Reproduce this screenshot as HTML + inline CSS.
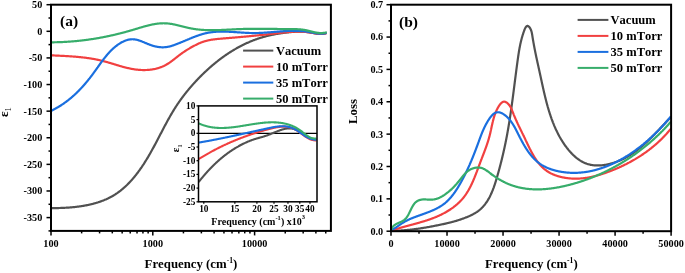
<!DOCTYPE html><html><head><meta charset="utf-8"><style>html,body{margin:0;padding:0;background:#fff;width:685px;height:273px;overflow:hidden}svg{display:block;font-family:"Liberation Serif",serif;will-change:transform;font-kerning:none;font-feature-settings:"kern" 0}</style></head><body><svg width="685" height="273" viewBox="0 0 685 273" font-family='"Liberation Serif", serif'><rect x="0" y="0" width="685" height="273" fill="#fff"/><defs><clipPath id="ca"><rect x="51.0" y="4.7" width="279.9" height="226.2"/></clipPath><clipPath id="cb"><rect x="391.0" y="4.7" width="280.1" height="226.5"/></clipPath><clipPath id="ci"><rect x="198.5" y="105.9" width="118.5" height="95.9"/></clipPath></defs><path d="M51.07,208.11 L51.60,208.11 L52.12,208.11 L52.65,208.11 L53.18,208.10 L53.71,208.10 L54.25,208.10 L54.78,208.09 L55.32,208.09 L55.85,208.08 L56.39,208.07 L56.93,208.06 L57.47,208.05 L58.01,208.04 L58.56,208.03 L59.10,208.01 L59.64,208.00 L60.19,207.98 L60.74,207.97 L61.28,207.95 L61.83,207.93 L62.38,207.90 L62.93,207.88 L63.48,207.86 L64.04,207.83 L64.59,207.80 L65.14,207.77 L65.70,207.74 L66.25,207.71 L66.80,207.68 L67.36,207.64 L67.92,207.61 L68.47,207.57 L69.03,207.53 L69.59,207.48 L70.14,207.44 L70.70,207.40 L71.26,207.35 L71.82,207.30 L72.38,207.25 L72.93,207.20 L73.49,207.14 L74.05,207.08 L74.61,207.03 L75.17,206.97 L75.73,206.90 L76.29,206.84 L76.85,206.77 L77.40,206.70 L77.96,206.63 L78.52,206.56 L79.08,206.48 L79.64,206.41 L80.19,206.33 L80.75,206.24 L81.31,206.16 L81.86,206.07 L82.42,205.99 L82.97,205.89 L83.53,205.80 L84.08,205.71 L84.64,205.61 L85.19,205.51 L85.74,205.40 L86.29,205.30 L86.85,205.19 L87.40,205.08 L87.94,204.97 L88.49,204.85 L89.04,204.73 L89.59,204.61 L90.13,204.49 L90.68,204.36 L91.22,204.23 L91.76,204.10 L92.30,203.96 L92.85,203.83 L93.38,203.68 L93.92,203.54 L94.46,203.39 L94.99,203.25 L95.53,203.09 L96.06,202.94 L96.59,202.78 L97.12,202.62 L97.65,202.45 L98.18,202.29 L98.70,202.12 L99.23,201.94 L99.75,201.77 L100.27,201.59 L100.79,201.40 L101.31,201.22 L101.82,201.03 L102.33,200.83 L102.85,200.64 L103.36,200.44 L103.86,200.23 L104.37,200.03 L104.87,199.82 L105.38,199.60 L105.88,199.39 L106.38,199.17 L106.87,198.94 L107.36,198.72 L107.86,198.49 L108.35,198.25 L108.83,198.01 L109.32,197.77 L109.80,197.53 L110.28,197.28 L110.76,197.02 L111.23,196.77 L111.71,196.51 L112.18,196.24 L112.64,195.97 L113.11,195.70 L113.57,195.43 L114.03,195.15 L114.49,194.86 L114.95,194.58 L115.40,194.28 L115.85,193.99 L116.30,193.69 L116.74,193.39 L117.19,193.09 L117.63,192.78 L118.06,192.47 L118.50,192.15 L118.93,191.83 L119.37,191.51 L119.80,191.19 L120.22,190.86 L120.65,190.53 L121.07,190.19 L121.49,189.85 L121.91,189.51 L122.32,189.17 L122.73,188.82 L123.15,188.47 L123.55,188.12 L123.96,187.76 L124.37,187.40 L124.77,187.04 L125.17,186.67 L125.57,186.31 L125.96,185.93 L126.36,185.56 L126.75,185.18 L127.14,184.81 L127.53,184.42 L127.91,184.04 L128.30,183.65 L128.68,183.26 L129.06,182.87 L129.43,182.48 L129.81,182.08 L130.18,181.68 L130.55,181.28 L130.92,180.87 L131.29,180.47 L131.66,180.06 L132.02,179.64 L132.39,179.23 L132.75,178.81 L133.10,178.40 L133.46,177.98 L133.82,177.55 L134.17,177.13 L134.52,176.70 L134.87,176.27 L135.22,175.84 L135.56,175.41 L135.91,174.98 L136.25,174.54 L136.59,174.10 L136.93,173.66 L137.27,173.22 L137.60,172.78 L137.94,172.33 L138.27,171.88 L138.60,171.44 L138.93,170.98 L139.26,170.53 L139.58,170.08 L139.91,169.62 L140.23,169.17 L140.55,168.71 L140.87,168.25 L141.19,167.79 L141.51,167.33 L141.82,166.86 L142.14,166.40 L142.45,165.93 L142.76,165.46 L143.07,165.00 L143.38,164.53 L143.69,164.06 L143.99,163.58 L144.29,163.11 L144.60,162.64 L144.90,162.16 L145.20,161.68 L145.50,161.21 L145.79,160.73 L146.09,160.25 L146.39,159.77 L146.68,159.29 L146.97,158.81 L147.26,158.33 L147.55,157.84 L147.84,157.36 L148.13,156.88 L148.41,156.39 L148.70,155.91 L148.98,155.42 L149.27,154.93 L149.55,154.45 L149.83,153.96 L150.11,153.47 L150.39,152.98 L150.66,152.50 L150.94,152.01 L151.21,151.52 L151.49,151.03 L151.76,150.54 L152.03,150.05 L152.30,149.56 L152.57,149.07 L152.84,148.58 L153.11,148.09 L153.38,147.60 L153.65,147.11 L153.91,146.62 L154.18,146.13 L154.44,145.64 L154.70,145.14 L154.97,144.65 L155.23,144.16 L155.49,143.67 L155.75,143.18 L156.01,142.69 L156.27,142.20 L156.53,141.71 L156.79,141.22 L157.05,140.73 L157.30,140.24 L157.56,139.75 L157.82,139.25 L158.07,138.76 L158.33,138.27 L158.59,137.78 L158.84,137.29 L159.10,136.80 L159.35,136.31 L159.61,135.82 L159.86,135.33 L160.12,134.84 L160.37,134.36 L160.62,133.87 L160.88,133.38 L161.13,132.89 L161.39,132.40 L161.64,131.91 L161.90,131.42 L162.15,130.94 L162.40,130.45 L162.66,129.96 L162.91,129.48 L163.17,128.99 L163.42,128.50 L163.68,128.02 L163.94,127.53 L164.19,127.05 L164.45,126.56 L164.71,126.08 L164.96,125.60 L165.22,125.11 L165.48,124.63 L165.74,124.15 L166.00,123.66 L166.25,123.18 L166.51,122.70 L166.78,122.22 L167.04,121.74 L167.30,121.26 L167.56,120.78 L167.82,120.30 L168.09,119.82 L168.35,119.35 L168.62,118.87 L168.89,118.39 L169.15,117.92 L169.42,117.44 L169.69,116.96 L169.96,116.49 L170.23,116.02 L170.50,115.54 L170.78,115.07 L171.05,114.60 L171.32,114.13 L171.60,113.66 L171.88,113.19 L172.16,112.72 L172.44,112.25 L172.72,111.78 L173.00,111.32 L173.28,110.85 L173.57,110.38 L173.85,109.92 L174.14,109.46 L174.43,108.99 L174.72,108.53 L175.01,108.07 L175.30,107.61 L175.60,107.15 L175.89,106.69 L176.19,106.23 L176.49,105.77 L176.79,105.32 L177.09,104.86 L177.39,104.41 L177.70,103.95 L178.01,103.50 L178.31,103.05 L178.62,102.60 L178.94,102.15 L179.25,101.70 L179.56,101.25 L179.88,100.80 L180.20,100.35 L180.52,99.91 L180.84,99.46 L181.16,99.02 L181.48,98.57 L181.81,98.13 L182.13,97.69 L182.46,97.25 L182.79,96.81 L183.12,96.37 L183.45,95.93 L183.78,95.50 L184.12,95.06 L184.45,94.62 L184.79,94.19 L185.13,93.76 L185.47,93.32 L185.81,92.89 L186.16,92.46 L186.50,92.03 L186.85,91.60 L187.19,91.17 L187.54,90.75 L187.89,90.32 L188.24,89.90 L188.59,89.47 L188.95,89.05 L189.30,88.63 L189.66,88.20 L190.01,87.78 L190.37,87.36 L190.73,86.95 L191.09,86.53 L191.46,86.11 L191.82,85.70 L192.18,85.28 L192.55,84.87 L192.92,84.45 L193.29,84.04 L193.66,83.63 L194.03,83.22 L194.40,82.81 L194.77,82.40 L195.15,82.00 L195.52,81.59 L195.90,81.18 L196.28,80.78 L196.66,80.38 L197.04,79.97 L197.42,79.57 L197.80,79.17 L198.18,78.77 L198.57,78.37 L198.95,77.98 L199.34,77.58 L199.73,77.18 L200.12,76.79 L200.51,76.40 L200.90,76.00 L201.29,75.61 L201.68,75.22 L202.08,74.83 L202.47,74.44 L202.87,74.06 L203.27,73.67 L203.66,73.28 L204.06,72.90 L204.46,72.52 L204.87,72.13 L205.27,71.75 L205.67,71.37 L206.08,71.00 L206.48,70.62 L206.89,70.24 L207.30,69.87 L207.71,69.49 L208.12,69.12 L208.53,68.75 L208.94,68.38 L209.35,68.01 L209.77,67.64 L210.18,67.28 L210.60,66.91 L211.02,66.55 L211.44,66.18 L211.86,65.82 L212.28,65.46 L212.70,65.11 L213.12,64.75 L213.55,64.39 L213.97,64.04 L214.40,63.68 L214.83,63.33 L215.25,62.98 L215.68,62.63 L216.11,62.29 L216.54,61.94 L216.98,61.60 L217.41,61.25 L217.84,60.91 L218.28,60.57 L218.72,60.23 L219.15,59.90 L219.59,59.56 L220.03,59.23 L220.47,58.89 L220.92,58.56 L221.36,58.23 L221.80,57.91 L222.25,57.58 L222.69,57.25 L223.14,56.93 L223.59,56.61 L224.04,56.29 L224.49,55.97 L224.94,55.66 L225.39,55.34 L225.85,55.03 L226.30,54.72 L226.76,54.41 L227.21,54.10 L227.67,53.79 L228.13,53.49 L228.59,53.19 L229.05,52.88 L229.51,52.59 L229.98,52.29 L230.44,51.99 L230.90,51.70 L231.37,51.41 L231.84,51.12 L232.31,50.83 L232.77,50.54 L233.25,50.26 L233.72,49.97 L234.19,49.69 L234.66,49.41 L235.14,49.14 L235.61,48.86 L236.09,48.59 L236.57,48.32 L237.04,48.05 L237.52,47.78 L238.00,47.52 L238.49,47.25 L238.97,46.99 L239.45,46.73 L239.94,46.47 L240.42,46.22 L240.91,45.97 L241.40,45.71 L241.89,45.47 L242.38,45.22 L242.87,44.97 L243.36,44.73 L243.85,44.49 L244.35,44.25 L244.84,44.02 L245.34,43.78 L245.84,43.55 L246.33,43.32 L246.83,43.09 L247.33,42.87 L247.84,42.64 L248.34,42.42 L248.84,42.20 L249.35,41.99 L249.85,41.77 L250.36,41.56 L250.87,41.35 L251.37,41.14 L251.88,40.94 L252.39,40.73 L252.91,40.53 L253.42,40.34 L253.93,40.14 L254.45,39.95 L254.96,39.75 L255.48,39.57 L256.00,39.38 L256.52,39.20 L257.04,39.01 L257.56,38.83 L258.08,38.66 L258.60,38.48 L259.13,38.31 L259.65,38.14 L260.18,37.98 L260.70,37.81 L261.23,37.65 L261.76,37.49 L262.29,37.33 L262.82,37.18 L263.35,37.03 L263.89,36.88 L264.42,36.73 L264.96,36.58 L265.49,36.44 L266.03,36.30 L266.56,36.16 L267.10,36.03 L267.64,35.89 L268.18,35.76 L268.72,35.63 L269.26,35.50 L269.80,35.38 L270.34,35.26 L270.88,35.14 L271.42,35.02 L271.97,34.90 L272.51,34.79 L273.05,34.67 L273.60,34.56 L274.14,34.46 L274.69,34.35 L275.23,34.25 L275.78,34.14 L276.32,34.04 L276.87,33.95 L277.42,33.85 L277.96,33.75 L278.51,33.66 L279.06,33.57 L279.61,33.48 L280.15,33.40 L280.70,33.31 L281.25,33.23 L281.80,33.15 L282.35,33.07 L282.90,32.99 L283.44,32.91 L283.99,32.84 L284.54,32.76 L285.09,32.69 L285.64,32.62 L286.18,32.56 L286.73,32.49 L287.28,32.43 L287.83,32.36 L288.37,32.30 L288.92,32.24 L289.47,32.19 L290.02,32.13 L290.56,32.08 L291.11,32.03 L291.66,31.98 L292.20,31.94 L292.75,31.89 L293.30,31.85 L293.84,31.82 L294.39,31.78 L294.93,31.75 L295.48,31.72 L296.02,31.70 L296.57,31.68 L297.11,31.66 L297.66,31.64 L298.20,31.63 L298.75,31.62 L299.29,31.62 L299.84,31.62 L300.38,31.62 L300.93,31.63 L301.47,31.64 L302.01,31.66 L302.56,31.68 L303.10,31.70 L303.64,31.73 L304.19,31.76 L304.73,31.80 L305.27,31.84 L305.81,31.89 L306.36,31.94 L306.90,32.00 L307.44,32.06 L307.98,32.13 L308.52,32.20 L309.06,32.28 L309.60,32.37 L310.15,32.45 L310.69,32.54 L311.23,32.64 L311.77,32.74 L312.31,32.83 L312.85,32.93 L313.39,33.03 L313.93,33.12 L314.47,33.21 L315.01,33.30 L315.55,33.39 L316.10,33.47 L316.64,33.54 L317.18,33.61 L317.72,33.67 L318.27,33.72 L318.81,33.76 L319.36,33.79 L319.90,33.81 L320.45,33.82 L320.99,33.81 L321.54,33.79 L322.09,33.76 L322.64,33.71 L323.19,33.64 L323.74,33.56 L324.29,33.46 L324.84,33.34 L325.39,33.19 L325.95,33.03 L326.50,32.85" fill="none" stroke="#515151" stroke-width="2.20" stroke-linejoin="round" stroke-linecap="butt" clip-path="url(#ca)"/><path d="M51.01,55.30 L51.52,55.32 L52.03,55.35 L52.53,55.38 L53.04,55.40 L53.55,55.43 L54.06,55.45 L54.57,55.48 L55.08,55.50 L55.58,55.53 L56.09,55.55 L56.60,55.58 L57.11,55.60 L57.62,55.63 L58.13,55.65 L58.64,55.68 L59.15,55.70 L59.66,55.73 L60.17,55.75 L60.68,55.78 L61.19,55.80 L61.70,55.83 L62.21,55.86 L62.72,55.88 L63.23,55.91 L63.75,55.94 L64.26,55.97 L64.77,55.99 L65.28,56.02 L65.79,56.05 L66.30,56.08 L66.81,56.11 L67.32,56.14 L67.83,56.17 L68.34,56.20 L68.86,56.24 L69.37,56.27 L69.88,56.30 L70.39,56.34 L70.90,56.37 L71.41,56.41 L71.92,56.44 L72.43,56.48 L72.94,56.52 L73.45,56.56 L73.96,56.60 L74.48,56.64 L74.99,56.68 L75.50,56.72 L76.01,56.76 L76.52,56.80 L77.03,56.85 L77.54,56.89 L78.05,56.94 L78.56,56.99 L79.07,57.04 L79.58,57.09 L80.09,57.14 L80.59,57.19 L81.10,57.24 L81.61,57.30 L82.12,57.35 L82.63,57.41 L83.14,57.47 L83.65,57.53 L84.16,57.59 L84.66,57.65 L85.17,57.71 L85.68,57.78 L86.19,57.84 L86.69,57.91 L87.20,57.98 L87.71,58.05 L88.21,58.12 L88.72,58.19 L89.22,58.27 L89.73,58.35 L90.23,58.42 L90.74,58.50 L91.24,58.58 L91.75,58.67 L92.25,58.75 L92.76,58.84 L93.26,58.93 L93.76,59.02 L94.27,59.11 L94.77,59.20 L95.27,59.29 L95.77,59.39 L96.27,59.49 L96.77,59.59 L97.27,59.69 L97.78,59.80 L98.28,59.90 L98.77,60.01 L99.27,60.12 L99.77,60.24 L100.27,60.35 L100.77,60.47 L101.27,60.59 L101.76,60.71 L102.26,60.83 L102.76,60.96 L103.25,61.08 L103.75,61.21 L104.24,61.34 L104.74,61.48 L105.23,61.61 L105.73,61.75 L106.22,61.88 L106.71,62.02 L107.21,62.16 L107.70,62.30 L108.19,62.45 L108.69,62.59 L109.18,62.74 L109.67,62.88 L110.16,63.03 L110.65,63.17 L111.15,63.32 L111.64,63.47 L112.13,63.62 L112.62,63.77 L113.11,63.92 L113.60,64.07 L114.10,64.22 L114.59,64.37 L115.08,64.51 L115.57,64.66 L116.06,64.81 L116.55,64.96 L117.05,65.11 L117.54,65.26 L118.03,65.40 L118.52,65.55 L119.01,65.70 L119.51,65.84 L120.00,65.98 L120.49,66.13 L120.99,66.27 L121.48,66.41 L121.97,66.55 L122.47,66.69 L122.96,66.82 L123.46,66.96 L123.95,67.09 L124.45,67.22 L124.94,67.35 L125.44,67.48 L125.93,67.60 L126.43,67.72 L126.93,67.84 L127.43,67.96 L127.93,68.08 L128.42,68.19 L128.92,68.30 L129.42,68.41 L129.92,68.52 L130.43,68.62 L130.93,68.72 L131.43,68.82 L131.93,68.91 L132.44,69.00 L132.94,69.09 L133.45,69.17 L133.95,69.25 L134.46,69.33 L134.96,69.40 L135.47,69.47 L135.98,69.54 L136.49,69.60 L137.00,69.66 L137.51,69.71 L138.02,69.76 L138.53,69.81 L139.04,69.85 L139.56,69.89 L140.07,69.93 L140.58,69.96 L141.09,69.98 L141.61,70.00 L142.12,70.02 L142.63,70.03 L143.14,70.04 L143.66,70.05 L144.17,70.05 L144.68,70.04 L145.19,70.03 L145.70,70.02 L146.21,70.00 L146.72,69.98 L147.23,69.95 L147.74,69.92 L148.25,69.88 L148.76,69.84 L149.26,69.80 L149.77,69.75 L150.28,69.69 L150.78,69.63 L151.28,69.56 L151.79,69.49 L152.29,69.41 L152.79,69.33 L153.28,69.25 L153.78,69.15 L154.28,69.06 L154.77,68.96 L155.27,68.85 L155.76,68.73 L156.25,68.62 L156.74,68.49 L157.22,68.36 L157.71,68.23 L158.19,68.09 L158.67,67.94 L159.15,67.79 L159.63,67.63 L160.11,67.47 L160.58,67.30 L161.05,67.12 L161.52,66.94 L161.99,66.76 L162.45,66.56 L162.91,66.37 L163.37,66.16 L163.83,65.95 L164.28,65.73 L164.74,65.51 L165.19,65.28 L165.63,65.05 L166.08,64.80 L166.52,64.56 L166.96,64.30 L167.39,64.04 L167.83,63.77 L168.26,63.50 L168.69,63.23 L169.11,62.94 L169.54,62.66 L169.96,62.37 L170.38,62.07 L170.80,61.77 L171.21,61.47 L171.63,61.17 L172.04,60.86 L172.46,60.55 L172.87,60.24 L173.28,59.92 L173.69,59.60 L174.10,59.28 L174.51,58.96 L174.91,58.64 L175.32,58.32 L175.73,58.00 L176.14,57.67 L176.54,57.35 L176.95,57.03 L177.36,56.71 L177.76,56.39 L178.17,56.07 L178.58,55.75 L178.99,55.43 L179.40,55.12 L179.81,54.80 L180.22,54.49 L180.64,54.19 L181.05,53.88 L181.47,53.58 L181.88,53.28 L182.30,52.99 L182.72,52.69 L183.14,52.40 L183.57,52.12 L183.99,51.83 L184.42,51.55 L184.84,51.27 L185.27,50.99 L185.70,50.72 L186.13,50.44 L186.56,50.17 L186.99,49.91 L187.43,49.64 L187.86,49.37 L188.30,49.11 L188.74,48.85 L189.18,48.59 L189.62,48.33 L190.06,48.08 L190.50,47.82 L190.94,47.57 L191.39,47.31 L191.84,47.06 L192.28,46.82 L192.73,46.57 L193.18,46.32 L193.63,46.08 L194.09,45.84 L194.54,45.60 L194.99,45.37 L195.45,45.13 L195.91,44.90 L196.36,44.67 L196.82,44.45 L197.28,44.23 L197.75,44.01 L198.21,43.79 L198.67,43.58 L199.14,43.37 L199.60,43.16 L200.07,42.96 L200.54,42.77 L201.01,42.57 L201.48,42.39 L201.96,42.21 L202.43,42.03 L202.91,41.86 L203.39,41.70 L203.87,41.54 L204.35,41.39 L204.83,41.24 L205.31,41.10 L205.80,40.96 L206.29,40.83 L206.77,40.71 L207.26,40.59 L207.76,40.47 L208.25,40.36 L208.74,40.26 L209.23,40.16 L209.73,40.06 L210.23,39.97 L210.72,39.88 L211.22,39.79 L211.72,39.71 L212.22,39.63 L212.72,39.56 L213.22,39.49 L213.73,39.42 L214.23,39.35 L214.73,39.29 L215.24,39.23 L215.74,39.17 L216.25,39.12 L216.76,39.06 L217.26,39.01 L217.77,38.96 L218.28,38.91 L218.79,38.86 L219.29,38.82 L219.80,38.77 L220.31,38.73 L220.82,38.68 L221.33,38.64 L221.84,38.60 L222.35,38.56 L222.86,38.51 L223.37,38.47 L223.88,38.43 L224.39,38.39 L224.90,38.35 L225.41,38.31 L225.92,38.26 L226.43,38.22 L226.94,38.18 L227.45,38.14 L227.96,38.09 L228.47,38.05 L228.97,38.01 L229.48,37.97 L229.99,37.92 L230.50,37.88 L231.01,37.84 L231.52,37.80 L232.03,37.75 L232.54,37.71 L233.05,37.67 L233.56,37.62 L234.07,37.58 L234.58,37.54 L235.09,37.49 L235.60,37.45 L236.11,37.41 L236.62,37.36 L237.13,37.32 L237.64,37.27 L238.15,37.23 L238.66,37.19 L239.17,37.14 L239.67,37.10 L240.18,37.05 L240.69,37.01 L241.20,36.96 L241.71,36.92 L242.22,36.87 L242.73,36.83 L243.24,36.78 L243.75,36.73 L244.26,36.69 L244.77,36.64 L245.28,36.59 L245.79,36.55 L246.30,36.50 L246.81,36.45 L247.32,36.41 L247.83,36.36 L248.34,36.31 L248.84,36.26 L249.35,36.22 L249.86,36.17 L250.37,36.12 L250.88,36.07 L251.39,36.02 L251.90,35.97 L252.41,35.92 L252.92,35.87 L253.43,35.82 L253.94,35.77 L254.45,35.72 L254.96,35.67 L255.47,35.62 L255.98,35.57 L256.49,35.52 L257.00,35.47 L257.50,35.42 L258.01,35.37 L258.52,35.31 L259.03,35.26 L259.54,35.21 L260.05,35.16 L260.56,35.10 L261.07,35.05 L261.58,35.00 L262.09,34.94 L262.60,34.89 L263.11,34.83 L263.62,34.78 L264.13,34.72 L264.64,34.67 L265.15,34.61 L265.65,34.55 L266.16,34.50 L266.67,34.44 L267.18,34.38 L267.69,34.33 L268.20,34.27 L268.71,34.21 L269.22,34.15 L269.73,34.09 L270.24,34.03 L270.75,33.97 L271.26,33.92 L271.77,33.86 L272.28,33.79 L272.79,33.73 L273.29,33.67 L273.80,33.61 L274.31,33.55 L274.82,33.49 L275.33,33.43 L275.84,33.37 L276.35,33.31 L276.86,33.25 L277.37,33.18 L277.88,33.12 L278.39,33.06 L278.90,33.00 L279.41,32.95 L279.91,32.89 L280.42,32.83 L280.93,32.77 L281.44,32.72 L281.95,32.66 L282.46,32.61 L282.97,32.55 L283.48,32.50 L283.99,32.45 L284.49,32.40 L285.00,32.35 L285.51,32.30 L286.02,32.25 L286.53,32.20 L287.04,32.16 L287.54,32.12 L288.05,32.07 L288.56,32.03 L289.07,32.00 L289.58,31.96 L290.09,31.92 L290.59,31.89 L291.10,31.86 L291.61,31.83 L292.12,31.80 L292.62,31.78 L293.13,31.75 L293.64,31.73 L294.15,31.71 L294.65,31.70 L295.16,31.68 L295.67,31.67 L296.17,31.66 L296.68,31.65 L297.19,31.65 L297.69,31.64 L298.20,31.64 L298.71,31.65 L299.21,31.65 L299.72,31.66 L300.23,31.67 L300.73,31.69 L301.24,31.71 L301.74,31.73 L302.25,31.75 L302.75,31.78 L303.26,31.81 L303.76,31.84 L304.27,31.88 L304.77,31.92 L305.28,31.96 L305.78,32.01 L306.29,32.06 L306.79,32.12 L307.30,32.17 L307.80,32.24 L308.30,32.30 L308.81,32.37 L309.31,32.45 L309.81,32.52 L310.32,32.60 L310.82,32.69 L311.32,32.77 L311.83,32.86 L312.33,32.94 L312.83,33.03 L313.34,33.12 L313.84,33.20 L314.34,33.28 L314.85,33.37 L315.35,33.44 L315.85,33.52 L316.36,33.59 L316.86,33.65 L317.36,33.71 L317.87,33.77 L318.37,33.81 L318.88,33.85 L319.38,33.88 L319.89,33.91 L320.39,33.92 L320.90,33.93 L321.41,33.92 L321.91,33.91 L322.42,33.88 L322.93,33.84 L323.43,33.79 L323.94,33.72 L324.45,33.65 L324.96,33.55 L325.47,33.45 L325.98,33.32 L326.49,33.18" fill="none" stroke="#F14040" stroke-width="2.20" stroke-linejoin="round" stroke-linecap="butt" clip-path="url(#ca)"/><path d="M51.02,110.93 L51.49,110.70 L51.95,110.47 L52.41,110.24 L52.87,110.01 L53.32,109.78 L53.78,109.54 L54.23,109.30 L54.68,109.06 L55.12,108.82 L55.57,108.58 L56.01,108.33 L56.45,108.08 L56.89,107.83 L57.33,107.58 L57.76,107.32 L58.20,107.06 L58.63,106.80 L59.06,106.54 L59.49,106.28 L59.91,106.01 L60.34,105.75 L60.76,105.48 L61.18,105.21 L61.60,104.93 L62.01,104.66 L62.43,104.38 L62.84,104.10 L63.25,103.82 L63.66,103.54 L64.07,103.25 L64.47,102.96 L64.88,102.67 L65.28,102.38 L65.68,102.09 L66.08,101.80 L66.48,101.50 L66.87,101.20 L67.27,100.90 L67.66,100.60 L68.05,100.30 L68.44,99.99 L68.83,99.68 L69.21,99.37 L69.60,99.06 L69.98,98.75 L70.36,98.44 L70.74,98.12 L71.12,97.80 L71.49,97.48 L71.87,97.16 L72.24,96.84 L72.61,96.51 L72.98,96.19 L73.35,95.86 L73.72,95.53 L74.08,95.20 L74.45,94.87 L74.81,94.53 L75.17,94.20 L75.53,93.86 L75.89,93.52 L76.25,93.18 L76.60,92.84 L76.96,92.49 L77.31,92.15 L77.66,91.80 L78.01,91.45 L78.36,91.10 L78.71,90.75 L79.06,90.39 L79.40,90.04 L79.75,89.68 L80.09,89.33 L80.43,88.97 L80.77,88.61 L81.11,88.25 L81.45,87.88 L81.78,87.52 L82.12,87.15 L82.45,86.78 L82.79,86.41 L83.12,86.04 L83.45,85.67 L83.78,85.30 L84.11,84.93 L84.44,84.55 L84.76,84.17 L85.09,83.79 L85.41,83.42 L85.74,83.03 L86.06,82.65 L86.38,82.27 L86.70,81.88 L87.02,81.50 L87.34,81.11 L87.65,80.72 L87.97,80.33 L88.28,79.94 L88.60,79.55 L88.91,79.16 L89.22,78.76 L89.54,78.37 L89.85,77.97 L90.16,77.57 L90.47,77.18 L90.77,76.78 L91.08,76.37 L91.39,75.97 L91.69,75.57 L92.00,75.17 L92.30,74.76 L92.60,74.35 L92.91,73.95 L93.21,73.54 L93.51,73.13 L93.81,72.72 L94.11,72.31 L94.41,71.89 L94.70,71.48 L95.00,71.07 L95.30,70.65 L95.60,70.24 L95.89,69.82 L96.19,69.41 L96.48,68.99 L96.78,68.58 L97.08,68.16 L97.37,67.74 L97.67,67.33 L97.96,66.91 L98.26,66.50 L98.56,66.08 L98.85,65.66 L99.15,65.25 L99.45,64.83 L99.74,64.42 L100.04,64.00 L100.34,63.59 L100.64,63.18 L100.94,62.77 L101.24,62.35 L101.54,61.94 L101.84,61.53 L102.14,61.13 L102.45,60.72 L102.75,60.31 L103.06,59.91 L103.36,59.50 L103.67,59.10 L103.98,58.70 L104.29,58.30 L104.60,57.90 L104.92,57.51 L105.23,57.11 L105.55,56.72 L105.86,56.33 L106.18,55.94 L106.50,55.56 L106.83,55.17 L107.15,54.79 L107.47,54.41 L107.80,54.03 L108.13,53.66 L108.46,53.28 L108.80,52.91 L109.13,52.54 L109.47,52.18 L109.81,51.82 L110.15,51.46 L110.50,51.10 L110.84,50.75 L111.19,50.40 L111.54,50.05 L111.90,49.70 L112.26,49.36 L112.61,49.02 L112.98,48.69 L113.34,48.36 L113.71,48.03 L114.08,47.71 L114.45,47.39 L114.83,47.07 L115.21,46.76 L115.59,46.45 L115.98,46.14 L116.37,45.84 L116.76,45.54 L117.15,45.25 L117.55,44.96 L117.95,44.68 L118.36,44.40 L118.77,44.12 L119.18,43.85 L119.60,43.58 L120.02,43.32 L120.44,43.07 L120.87,42.81 L121.30,42.57 L121.73,42.33 L122.17,42.09 L122.61,41.87 L123.06,41.65 L123.50,41.43 L123.95,41.23 L124.40,41.03 L124.86,40.84 L125.31,40.66 L125.77,40.49 L126.23,40.33 L126.69,40.18 L127.16,40.04 L127.62,39.90 L128.09,39.78 L128.56,39.68 L129.03,39.58 L129.50,39.49 L129.98,39.42 L130.45,39.36 L130.93,39.31 L131.40,39.28 L131.88,39.26 L132.35,39.25 L132.83,39.26 L133.31,39.29 L133.79,39.32 L134.27,39.37 L134.75,39.43 L135.23,39.51 L135.71,39.60 L136.19,39.69 L136.67,39.80 L137.15,39.92 L137.63,40.04 L138.11,40.18 L138.59,40.32 L139.07,40.47 L139.56,40.63 L140.04,40.80 L140.52,40.97 L141.00,41.15 L141.49,41.33 L141.97,41.52 L142.46,41.71 L142.94,41.90 L143.42,42.10 L143.91,42.30 L144.39,42.50 L144.88,42.70 L145.36,42.91 L145.85,43.11 L146.34,43.32 L146.82,43.52 L147.31,43.72 L147.79,43.92 L148.28,44.12 L148.77,44.31 L149.25,44.50 L149.74,44.69 L150.23,44.87 L150.72,45.05 L151.20,45.22 L151.69,45.38 L152.18,45.54 L152.67,45.70 L153.15,45.84 L153.64,45.98 L154.13,46.11 L154.62,46.24 L155.11,46.36 L155.59,46.47 L156.08,46.57 L156.57,46.67 L157.06,46.76 L157.54,46.85 L158.03,46.93 L158.52,47.00 L159.00,47.06 L159.49,47.11 L159.97,47.16 L160.46,47.20 L160.94,47.23 L161.42,47.26 L161.91,47.28 L162.39,47.29 L162.87,47.29 L163.36,47.29 L163.84,47.27 L164.32,47.25 L164.80,47.22 L165.28,47.18 L165.75,47.14 L166.23,47.09 L166.71,47.02 L167.18,46.95 L167.66,46.88 L168.13,46.79 L168.61,46.70 L169.08,46.59 L169.55,46.48 L170.02,46.36 L170.49,46.23 L170.96,46.10 L171.43,45.96 L171.89,45.81 L172.36,45.66 L172.83,45.51 L173.29,45.35 L173.76,45.18 L174.22,45.01 L174.69,44.84 L175.16,44.67 L175.62,44.50 L176.09,44.32 L176.55,44.14 L177.02,43.97 L177.48,43.78 L177.94,43.60 L178.41,43.42 L178.87,43.23 L179.34,43.04 L179.80,42.86 L180.27,42.67 L180.73,42.48 L181.20,42.28 L181.66,42.09 L182.13,41.90 L182.59,41.71 L183.05,41.51 L183.52,41.32 L183.98,41.12 L184.45,40.93 L184.91,40.73 L185.38,40.54 L185.84,40.34 L186.31,40.14 L186.78,39.95 L187.24,39.75 L187.71,39.56 L188.17,39.36 L188.64,39.17 L189.11,38.98 L189.57,38.78 L190.04,38.59 L190.51,38.40 L190.97,38.21 L191.44,38.02 L191.91,37.83 L192.38,37.65 L192.85,37.46 L193.31,37.28 L193.78,37.09 L194.25,36.91 L194.72,36.73 L195.19,36.56 L195.66,36.38 L196.13,36.21 L196.60,36.04 L197.08,35.87 L197.55,35.70 L198.02,35.54 L198.49,35.37 L198.97,35.21 L199.44,35.06 L199.91,34.90 L200.39,34.75 L200.86,34.60 L201.34,34.46 L201.81,34.31 L202.29,34.17 L202.77,34.04 L203.25,33.91 L203.72,33.78 L204.20,33.65 L204.68,33.53 L205.16,33.41 L205.64,33.29 L206.12,33.18 L206.60,33.08 L207.08,32.97 L207.57,32.87 L208.05,32.78 L208.53,32.69 L209.02,32.60 L209.50,32.52 L209.99,32.44 L210.48,32.37 L210.96,32.30 L211.45,32.23 L211.94,32.17 L212.43,32.11 L212.92,32.06 L213.41,32.00 L213.90,31.96 L214.39,31.91 L214.88,31.87 L215.37,31.83 L215.86,31.79 L216.36,31.76 L216.85,31.73 L217.34,31.71 L217.84,31.68 L218.33,31.66 L218.83,31.64 L219.32,31.63 L219.82,31.62 L220.31,31.61 L220.81,31.60 L221.31,31.59 L221.80,31.59 L222.30,31.59 L222.80,31.59 L223.30,31.60 L223.80,31.60 L224.30,31.61 L224.80,31.62 L225.30,31.63 L225.80,31.64 L226.30,31.66 L226.80,31.67 L227.30,31.69 L227.80,31.71 L228.30,31.73 L228.80,31.76 L229.31,31.78 L229.81,31.80 L230.31,31.83 L230.81,31.86 L231.32,31.89 L231.82,31.92 L232.32,31.95 L232.83,31.98 L233.33,32.01 L233.84,32.04 L234.34,32.07 L234.84,32.11 L235.35,32.14 L235.85,32.17 L236.36,32.21 L236.86,32.24 L237.37,32.28 L237.87,32.31 L238.38,32.35 L238.88,32.38 L239.39,32.42 L239.89,32.45 L240.40,32.48 L240.91,32.52 L241.41,32.55 L241.92,32.59 L242.42,32.62 L242.93,32.65 L243.43,32.68 L243.94,32.71 L244.44,32.74 L244.95,32.77 L245.46,32.80 L245.96,32.82 L246.47,32.85 L246.97,32.87 L247.48,32.90 L247.98,32.92 L248.49,32.94 L248.99,32.96 L249.50,32.98 L250.00,32.99 L250.51,33.01 L251.01,33.02 L251.51,33.03 L252.02,33.04 L252.52,33.05 L253.03,33.05 L253.53,33.06 L254.03,33.06 L254.54,33.06 L255.04,33.05 L255.54,33.05 L256.05,33.04 L256.55,33.03 L257.05,33.02 L257.55,33.01 L258.06,33.00 L258.56,32.98 L259.06,32.96 L259.56,32.94 L260.06,32.92 L260.56,32.90 L261.07,32.88 L261.57,32.85 L262.07,32.83 L262.57,32.80 L263.07,32.77 L263.57,32.74 L264.07,32.71 L264.57,32.68 L265.07,32.65 L265.57,32.62 L266.07,32.58 L266.57,32.55 L267.07,32.51 L267.57,32.47 L268.06,32.44 L268.56,32.40 L269.06,32.36 L269.56,32.32 L270.06,32.28 L270.56,32.24 L271.06,32.20 L271.55,32.16 L272.05,32.12 L272.55,32.08 L273.05,32.04 L273.55,32.00 L274.04,31.95 L274.54,31.91 L275.04,31.87 L275.54,31.83 L276.03,31.79 L276.53,31.75 L277.03,31.71 L277.52,31.67 L278.02,31.63 L278.52,31.59 L279.01,31.55 L279.51,31.51 L280.01,31.47 L280.50,31.43 L281.00,31.39 L281.49,31.36 L281.99,31.32 L282.49,31.29 L282.98,31.25 L283.48,31.22 L283.97,31.19 L284.47,31.16 L284.96,31.13 L285.46,31.10 L285.95,31.07 L286.45,31.04 L286.95,31.02 L287.44,30.99 L287.94,30.97 L288.43,30.95 L288.93,30.93 L289.42,30.91 L289.91,30.90 L290.41,30.88 L290.90,30.87 L291.40,30.86 L291.89,30.85 L292.39,30.84 L292.88,30.83 L293.38,30.83 L293.87,30.82 L294.37,30.82 L294.86,30.83 L295.35,30.83 L295.85,30.84 L296.34,30.84 L296.84,30.85 L297.33,30.87 L297.82,30.88 L298.32,30.90 L298.81,30.92 L299.31,30.94 L299.80,30.97 L300.29,31.00 L300.79,31.03 L301.28,31.06 L301.78,31.10 L302.27,31.14 L302.76,31.18 L303.26,31.22 L303.75,31.27 L304.24,31.32 L304.74,31.38 L305.23,31.43 L305.73,31.49 L306.22,31.56 L306.71,31.62 L307.21,31.69 L307.70,31.77 L308.19,31.84 L308.69,31.92 L309.18,32.01 L309.68,32.10 L310.17,32.19 L310.66,32.28 L311.16,32.37 L311.65,32.47 L312.14,32.56 L312.64,32.66 L313.13,32.75 L313.63,32.85 L314.12,32.94 L314.61,33.03 L315.11,33.11 L315.60,33.20 L316.10,33.27 L316.59,33.35 L317.09,33.42 L317.58,33.48 L318.07,33.53 L318.57,33.58 L319.06,33.62 L319.56,33.66 L320.05,33.68 L320.55,33.69 L321.04,33.70 L321.54,33.69 L322.03,33.68 L322.53,33.65 L323.02,33.60 L323.52,33.55 L324.01,33.48 L324.51,33.40 L325.00,33.30 L325.50,33.19 L326.00,33.07 L326.49,32.92" fill="none" stroke="#1A6FDF" stroke-width="2.20" stroke-linejoin="round" stroke-linecap="butt" clip-path="url(#ca)"/><path d="M50.92,42.31 L51.45,42.30 L51.98,42.30 L52.50,42.30 L53.03,42.29 L53.56,42.28 L54.08,42.28 L54.61,42.27 L55.13,42.26 L55.66,42.25 L56.18,42.24 L56.71,42.23 L57.23,42.21 L57.75,42.20 L58.28,42.18 L58.80,42.17 L59.32,42.15 L59.85,42.13 L60.37,42.11 L60.89,42.09 L61.41,42.07 L61.93,42.05 L62.45,42.03 L62.97,42.00 L63.50,41.98 L64.02,41.95 L64.54,41.92 L65.06,41.90 L65.58,41.87 L66.09,41.84 L66.61,41.81 L67.13,41.77 L67.65,41.74 L68.17,41.71 L68.69,41.67 L69.21,41.64 L69.72,41.60 L70.24,41.56 L70.76,41.52 L71.27,41.48 L71.79,41.44 L72.31,41.40 L72.82,41.36 L73.34,41.32 L73.86,41.27 L74.37,41.23 L74.89,41.18 L75.40,41.13 L75.92,41.09 L76.43,41.04 L76.95,40.99 L77.46,40.94 L77.97,40.88 L78.49,40.83 L79.00,40.78 L79.52,40.72 L80.03,40.67 L80.54,40.61 L81.05,40.55 L81.57,40.50 L82.08,40.44 L82.59,40.38 L83.10,40.31 L83.62,40.25 L84.13,40.19 L84.64,40.13 L85.15,40.06 L85.66,39.99 L86.17,39.93 L86.68,39.86 L87.19,39.79 L87.70,39.72 L88.21,39.65 L88.72,39.58 L89.23,39.51 L89.74,39.43 L90.25,39.36 L90.76,39.28 L91.27,39.21 L91.78,39.13 L92.29,39.05 L92.80,38.98 L93.31,38.90 L93.81,38.81 L94.32,38.73 L94.83,38.65 L95.34,38.57 L95.85,38.48 L96.35,38.40 L96.86,38.31 L97.37,38.23 L97.88,38.14 L98.38,38.05 L98.89,37.96 L99.40,37.87 L99.90,37.78 L100.41,37.68 L100.92,37.59 L101.42,37.50 L101.93,37.40 L102.43,37.31 L102.94,37.21 L103.45,37.11 L103.95,37.01 L104.46,36.91 L104.96,36.81 L105.47,36.71 L105.97,36.61 L106.48,36.51 L106.98,36.40 L107.49,36.30 L107.99,36.19 L108.50,36.08 L109.00,35.98 L109.51,35.87 L110.01,35.76 L110.51,35.65 L111.02,35.54 L111.52,35.43 L112.03,35.31 L112.53,35.20 L113.03,35.08 L113.54,34.97 L114.04,34.85 L114.54,34.73 L115.05,34.62 L115.55,34.50 L116.05,34.38 L116.56,34.26 L117.06,34.14 L117.56,34.01 L118.07,33.89 L118.57,33.77 L119.07,33.64 L119.57,33.51 L120.08,33.39 L120.58,33.26 L121.08,33.13 L121.59,33.00 L122.09,32.87 L122.59,32.74 L123.09,32.61 L123.59,32.48 L124.10,32.34 L124.60,32.21 L125.10,32.07 L125.60,31.94 L126.11,31.80 L126.61,31.66 L127.11,31.52 L127.61,31.38 L128.11,31.24 L128.61,31.10 L129.12,30.96 L129.62,30.82 L130.12,30.67 L130.62,30.53 L131.12,30.38 L131.63,30.24 L132.13,30.09 L132.63,29.94 L133.13,29.79 L133.63,29.64 L134.13,29.49 L134.63,29.34 L135.14,29.19 L135.64,29.04 L136.14,28.89 L136.64,28.73 L137.14,28.58 L137.64,28.43 L138.15,28.28 L138.65,28.13 L139.15,27.97 L139.65,27.82 L140.15,27.67 L140.65,27.52 L141.16,27.38 L141.66,27.23 L142.16,27.08 L142.66,26.94 L143.16,26.79 L143.67,26.65 L144.17,26.51 L144.67,26.37 L145.17,26.23 L145.67,26.09 L146.18,25.96 L146.68,25.83 L147.18,25.70 L147.68,25.57 L148.18,25.44 L148.69,25.32 L149.19,25.20 L149.69,25.08 L150.20,24.97 L150.70,24.85 L151.20,24.74 L151.70,24.64 L152.21,24.53 L152.71,24.43 L153.21,24.34 L153.72,24.24 L154.22,24.15 L154.73,24.07 L155.23,23.99 L155.73,23.91 L156.24,23.83 L156.74,23.76 L157.25,23.70 L157.75,23.63 L158.25,23.58 L158.76,23.53 L159.26,23.48 L159.77,23.43 L160.27,23.40 L160.78,23.36 L161.29,23.33 L161.79,23.31 L162.30,23.29 L162.80,23.28 L163.31,23.27 L163.81,23.27 L164.32,23.28 L164.83,23.29 L165.33,23.30 L165.84,23.33 L166.35,23.35 L166.86,23.39 L167.36,23.43 L167.87,23.48 L168.38,23.53 L168.89,23.59 L169.40,23.65 L169.90,23.72 L170.41,23.79 L170.92,23.87 L171.43,23.95 L171.94,24.04 L172.45,24.13 L172.96,24.22 L173.47,24.32 L173.98,24.42 L174.49,24.53 L175.00,24.63 L175.51,24.74 L176.02,24.86 L176.53,24.97 L177.04,25.09 L177.55,25.21 L178.06,25.33 L178.57,25.46 L179.08,25.58 L179.59,25.71 L180.10,25.83 L180.61,25.96 L181.12,26.09 L181.64,26.22 L182.15,26.35 L182.66,26.48 L183.17,26.61 L183.68,26.74 L184.19,26.86 L184.71,26.99 L185.22,27.12 L185.73,27.24 L186.24,27.37 L186.75,27.49 L187.26,27.61 L187.78,27.73 L188.29,27.84 L188.80,27.96 L189.31,28.07 L189.83,28.18 L190.34,28.28 L190.85,28.38 L191.36,28.48 L191.88,28.58 L192.39,28.67 L192.90,28.76 L193.41,28.84 L193.92,28.92 L194.44,29.00 L194.95,29.08 L195.46,29.15 L195.98,29.22 L196.49,29.29 L197.00,29.36 L197.51,29.42 L198.03,29.48 L198.54,29.53 L199.05,29.59 L199.56,29.64 L200.08,29.69 L200.59,29.73 L201.10,29.78 L201.62,29.82 L202.13,29.86 L202.64,29.89 L203.16,29.93 L203.67,29.96 L204.18,29.99 L204.69,30.02 L205.21,30.04 L205.72,30.06 L206.23,30.09 L206.75,30.10 L207.26,30.12 L207.78,30.14 L208.29,30.15 L208.80,30.16 L209.32,30.17 L209.83,30.18 L210.34,30.18 L210.86,30.19 L211.37,30.19 L211.89,30.19 L212.40,30.19 L212.91,30.19 L213.43,30.19 L213.94,30.18 L214.46,30.17 L214.97,30.17 L215.48,30.16 L216.00,30.15 L216.51,30.14 L217.03,30.12 L217.54,30.11 L218.06,30.10 L218.57,30.08 L219.09,30.06 L219.60,30.05 L220.12,30.03 L220.63,30.01 L221.15,29.99 L221.66,29.97 L222.18,29.94 L222.69,29.92 L223.21,29.90 L223.72,29.88 L224.24,29.85 L224.75,29.83 L225.27,29.80 L225.78,29.78 L226.30,29.75 L226.82,29.72 L227.33,29.70 L227.85,29.67 L228.36,29.64 L228.88,29.62 L229.40,29.59 L229.91,29.56 L230.43,29.53 L230.95,29.51 L231.46,29.48 L231.98,29.45 L232.50,29.42 L233.01,29.40 L233.53,29.37 L234.05,29.34 L234.56,29.32 L235.08,29.29 L235.60,29.27 L236.11,29.24 L236.63,29.22 L237.15,29.19 L237.67,29.17 L238.19,29.15 L238.70,29.12 L239.22,29.10 L239.74,29.08 L240.26,29.06 L240.77,29.04 L241.29,29.03 L241.81,29.01 L242.33,28.99 L242.85,28.98 L243.37,28.96 L243.89,28.95 L244.40,28.93 L244.92,28.92 L245.44,28.91 L245.96,28.89 L246.48,28.88 L247.00,28.87 L247.52,28.86 L248.04,28.85 L248.56,28.85 L249.08,28.84 L249.60,28.83 L250.11,28.82 L250.63,28.82 L251.15,28.81 L251.67,28.81 L252.19,28.80 L252.71,28.80 L253.23,28.79 L253.75,28.79 L254.27,28.79 L254.79,28.79 L255.31,28.78 L255.83,28.78 L256.35,28.78 L256.87,28.78 L257.39,28.78 L257.91,28.78 L258.43,28.78 L258.95,28.79 L259.47,28.79 L259.99,28.79 L260.51,28.79 L261.03,28.79 L261.55,28.80 L262.07,28.80 L262.59,28.80 L263.11,28.81 L263.63,28.81 L264.15,28.82 L264.67,28.82 L265.19,28.83 L265.71,28.83 L266.23,28.84 L266.75,28.84 L267.26,28.85 L267.78,28.85 L268.30,28.86 L268.82,28.86 L269.34,28.87 L269.86,28.88 L270.38,28.88 L270.90,28.89 L271.42,28.90 L271.94,28.90 L272.46,28.91 L272.98,28.92 L273.50,28.92 L274.01,28.93 L274.53,28.94 L275.05,28.95 L275.57,28.95 L276.09,28.96 L276.61,28.97 L277.13,28.97 L277.65,28.98 L278.16,28.99 L278.68,28.99 L279.20,29.00 L279.72,29.01 L280.24,29.01 L280.75,29.02 L281.27,29.02 L281.79,29.03 L282.31,29.04 L282.82,29.04 L283.34,29.05 L283.86,29.05 L284.37,29.06 L284.89,29.06 L285.41,29.07 L285.93,29.07 L286.44,29.07 L286.96,29.08 L287.47,29.08 L287.99,29.08 L288.51,29.09 L289.02,29.09 L289.54,29.09 L290.05,29.09 L290.57,29.10 L291.08,29.10 L291.60,29.10 L292.11,29.10 L292.63,29.11 L293.14,29.11 L293.66,29.12 L294.17,29.13 L294.68,29.14 L295.20,29.15 L295.71,29.16 L296.22,29.18 L296.74,29.20 L297.25,29.22 L297.76,29.24 L298.27,29.27 L298.78,29.30 L299.29,29.34 L299.80,29.38 L300.31,29.42 L300.82,29.46 L301.33,29.51 L301.84,29.57 L302.35,29.63 L302.86,29.70 L303.36,29.77 L303.87,29.84 L304.38,29.93 L304.88,30.01 L305.39,30.10 L305.89,30.20 L306.40,30.30 L306.90,30.41 L307.40,30.52 L307.91,30.63 L308.41,30.75 L308.91,30.87 L309.42,30.99 L309.92,31.11 L310.42,31.24 L310.92,31.36 L311.43,31.49 L311.93,31.62 L312.43,31.74 L312.93,31.86 L313.43,31.98 L313.94,32.10 L314.44,32.21 L314.94,32.32 L315.45,32.43 L315.95,32.52 L316.45,32.62 L316.96,32.70 L317.46,32.78 L317.97,32.85 L318.47,32.91 L318.98,32.96 L319.49,33.00 L320.00,33.03 L320.51,33.05 L321.02,33.06 L321.53,33.05 L322.04,33.03 L322.55,33.00 L323.07,32.95 L323.58,32.89 L324.10,32.81 L324.62,32.71 L325.13,32.60 L325.65,32.47 L326.18,32.32 L326.70,32.15" fill="none" stroke="#37AD6B" stroke-width="2.20" stroke-linejoin="round" stroke-linecap="butt" clip-path="url(#ca)"/><line x1="243.10" y1="50.60" x2="273.30" y2="50.60" stroke="#515151" stroke-width="2.00"/><text x="276.00" y="54.80" font-size="12.50" text-anchor="start" font-weight="bold">Vacuum</text><line x1="243.10" y1="66.60" x2="273.30" y2="66.60" stroke="#F14040" stroke-width="2.00"/><text x="276.00" y="70.80" font-size="12.50" text-anchor="start" font-weight="bold">10 mTorr</text><line x1="243.10" y1="82.60" x2="273.30" y2="82.60" stroke="#1A6FDF" stroke-width="2.00"/><text x="276.00" y="86.80" font-size="12.50" text-anchor="start" font-weight="bold">35 mTorr</text><line x1="243.10" y1="98.60" x2="273.30" y2="98.60" stroke="#37AD6B" stroke-width="2.00"/><text x="276.00" y="102.80" font-size="12.50" text-anchor="start" font-weight="bold">50 mTorr</text><rect x="198.5" y="105.9" width="118.5" height="95.9" fill="#fff"/><line x1="198.50" y1="133.30" x2="317.00" y2="133.30" stroke="#000" stroke-width="1.20"/><path d="M198.64,182.04 L198.97,181.62 L199.31,181.20 L199.64,180.78 L199.98,180.36 L200.32,179.94 L200.65,179.52 L200.99,179.11 L201.33,178.69 L201.67,178.28 L202.02,177.87 L202.36,177.46 L202.70,177.05 L203.05,176.64 L203.39,176.23 L203.74,175.82 L204.09,175.42 L204.44,175.01 L204.79,174.61 L205.14,174.21 L205.49,173.80 L205.84,173.40 L206.19,173.01 L206.55,172.61 L206.91,172.21 L207.26,171.82 L207.62,171.42 L207.98,171.03 L208.34,170.64 L208.70,170.25 L209.06,169.86 L209.43,169.47 L209.79,169.09 L210.16,168.70 L210.53,168.32 L210.90,167.94 L211.27,167.56 L211.64,167.18 L212.01,166.80 L212.38,166.43 L212.76,166.05 L213.13,165.68 L213.51,165.30 L213.89,164.93 L214.27,164.57 L214.65,164.20 L215.03,163.83 L215.42,163.47 L215.80,163.10 L216.19,162.74 L216.58,162.38 L216.97,162.02 L217.36,161.67 L217.75,161.31 L218.14,160.96 L218.54,160.60 L218.94,160.25 L219.33,159.90 L219.73,159.56 L220.14,159.21 L220.54,158.87 L220.94,158.52 L221.35,158.18 L221.76,157.84 L222.16,157.50 L222.58,157.17 L222.99,156.83 L223.40,156.50 L223.82,156.17 L224.23,155.84 L224.65,155.51 L225.07,155.19 L225.49,154.86 L225.92,154.54 L226.34,154.22 L226.77,153.90 L227.20,153.59 L227.63,153.27 L228.06,152.96 L228.49,152.65 L228.93,152.34 L229.37,152.03 L229.81,151.72 L230.25,151.42 L230.69,151.12 L231.13,150.82 L231.58,150.52 L232.03,150.22 L232.48,149.93 L232.93,149.64 L233.38,149.35 L233.84,149.06 L234.29,148.77 L234.75,148.49 L235.21,148.21 L235.67,147.93 L236.13,147.65 L236.60,147.38 L237.06,147.10 L237.53,146.83 L238.00,146.57 L238.46,146.30 L238.93,146.04 L239.41,145.78 L239.88,145.52 L240.35,145.27 L240.83,145.02 L241.30,144.77 L241.78,144.52 L242.26,144.28 L242.74,144.04 L243.22,143.80 L243.70,143.57 L244.18,143.33 L244.67,143.10 L245.15,142.88 L245.63,142.66 L246.12,142.44 L246.61,142.22 L247.09,142.01 L247.58,141.80 L248.07,141.59 L248.56,141.39 L249.05,141.19 L249.54,140.99 L250.03,140.79 L250.52,140.60 L251.01,140.42 L251.50,140.23 L252.00,140.05 L252.49,139.88 L252.98,139.71 L253.48,139.54 L253.97,139.37 L254.47,139.21 L254.96,139.05 L255.46,138.90 L255.95,138.75 L256.45,138.60 L256.94,138.45 L257.44,138.31 L257.94,138.17 L258.43,138.02 L258.93,137.88 L259.43,137.74 L259.93,137.60 L260.43,137.46 L260.93,137.32 L261.43,137.18 L261.93,137.03 L262.44,136.89 L262.94,136.74 L263.45,136.59 L263.95,136.43 L264.46,136.27 L264.97,136.11 L265.48,135.94 L265.99,135.77 L266.50,135.60 L267.01,135.41 L267.53,135.23 L268.04,135.04 L268.56,134.84 L269.08,134.64 L269.60,134.43 L270.11,134.23 L270.63,134.02 L271.16,133.81 L271.68,133.59 L272.20,133.38 L272.72,133.16 L273.25,132.94 L273.77,132.73 L274.29,132.51 L274.82,132.30 L275.34,132.08 L275.87,131.87 L276.39,131.66 L276.91,131.45 L277.44,131.25 L277.96,131.04 L278.49,130.85 L279.01,130.65 L279.53,130.47 L280.05,130.28 L280.57,130.10 L281.09,129.93 L281.61,129.77 L282.13,129.61 L282.65,129.46 L283.17,129.32 L283.68,129.18 L284.20,129.06 L284.71,128.94 L285.22,128.84 L285.74,128.74 L286.25,128.66 L286.75,128.58 L287.26,128.52 L287.76,128.47 L288.27,128.43 L288.77,128.40 L289.27,128.39 L289.76,128.39 L290.26,128.40 L290.75,128.43 L291.24,128.47 L291.73,128.53 L292.22,128.61 L292.70,128.69 L293.18,128.80 L293.66,128.92 L294.14,129.05 L294.61,129.20 L295.08,129.37 L295.55,129.54 L296.02,129.74 L296.48,129.95 L296.94,130.17 L297.40,130.40 L297.85,130.64 L298.31,130.89 L298.76,131.16 L299.22,131.43 L299.67,131.71 L300.12,131.99 L300.57,132.28 L301.02,132.58 L301.46,132.88 L301.91,133.19 L302.36,133.49 L302.81,133.80 L303.26,134.11 L303.71,134.42 L304.16,134.73 L304.62,135.03 L305.07,135.33 L305.53,135.63 L305.98,135.93 L306.44,136.22 L306.90,136.51 L307.37,136.78 L307.83,137.05 L308.30,137.31 L308.77,137.56 L309.25,137.81 L309.73,138.04 L310.21,138.25 L310.69,138.46 L311.18,138.65 L311.68,138.83 L312.18,138.99 L312.68,139.13 L313.18,139.26 L313.70,139.37 L314.21,139.46 L314.74,139.53 L315.27,139.58 L315.80,139.61 L316.34,139.62" fill="none" stroke="#515151" stroke-width="2.10" stroke-linejoin="round" stroke-linecap="butt" clip-path="url(#ci)"/><path d="M198.49,159.25 L198.92,158.98 L199.35,158.71 L199.78,158.45 L200.21,158.18 L200.64,157.91 L201.07,157.65 L201.50,157.39 L201.93,157.13 L202.37,156.87 L202.80,156.61 L203.23,156.35 L203.66,156.09 L204.09,155.83 L204.53,155.58 L204.96,155.33 L205.39,155.07 L205.82,154.82 L206.26,154.57 L206.69,154.32 L207.12,154.07 L207.56,153.82 L207.99,153.58 L208.42,153.33 L208.86,153.09 L209.29,152.84 L209.73,152.60 L210.16,152.36 L210.60,152.12 L211.03,151.88 L211.47,151.64 L211.90,151.41 L212.34,151.17 L212.78,150.93 L213.21,150.70 L213.65,150.47 L214.09,150.23 L214.52,150.00 L214.96,149.77 L215.40,149.54 L215.84,149.32 L216.28,149.09 L216.72,148.86 L217.15,148.64 L217.59,148.41 L218.03,148.19 L218.47,147.97 L218.91,147.75 L219.35,147.53 L219.80,147.31 L220.24,147.09 L220.68,146.87 L221.12,146.66 L221.56,146.44 L222.00,146.23 L222.45,146.01 L222.89,145.80 L223.33,145.59 L223.78,145.38 L224.22,145.17 L224.67,144.96 L225.11,144.75 L225.56,144.55 L226.00,144.34 L226.45,144.14 L226.89,143.93 L227.34,143.73 L227.79,143.53 L228.24,143.33 L228.68,143.13 L229.13,142.93 L229.58,142.73 L230.03,142.53 L230.48,142.33 L230.93,142.14 L231.38,141.94 L231.83,141.75 L232.28,141.56 L232.73,141.36 L233.18,141.17 L233.64,140.98 L234.09,140.79 L234.54,140.60 L235.00,140.42 L235.45,140.23 L235.90,140.04 L236.36,139.86 L236.81,139.67 L237.27,139.49 L237.73,139.31 L238.18,139.13 L238.64,138.95 L239.10,138.77 L239.56,138.59 L240.02,138.41 L240.47,138.23 L240.93,138.05 L241.39,137.88 L241.85,137.70 L242.32,137.53 L242.78,137.36 L243.24,137.18 L243.70,137.01 L244.16,136.84 L244.63,136.67 L245.09,136.50 L245.56,136.33 L246.02,136.16 L246.49,136.00 L246.95,135.83 L247.42,135.67 L247.89,135.50 L248.36,135.34 L248.82,135.18 L249.29,135.01 L249.76,134.85 L250.23,134.69 L250.70,134.53 L251.17,134.37 L251.65,134.21 L252.12,134.06 L252.59,133.90 L253.06,133.74 L253.54,133.59 L254.01,133.43 L254.49,133.28 L254.96,133.13 L255.44,132.98 L255.92,132.82 L256.39,132.67 L256.87,132.52 L257.35,132.37 L257.83,132.23 L258.31,132.08 L258.79,131.93 L259.27,131.78 L259.75,131.64 L260.24,131.49 L260.72,131.35 L261.20,131.21 L261.69,131.06 L262.17,130.92 L262.66,130.78 L263.14,130.64 L263.63,130.50 L264.12,130.36 L264.61,130.22 L265.10,130.08 L265.59,129.94 L266.08,129.81 L266.57,129.67 L267.06,129.54 L267.55,129.40 L268.05,129.27 L268.54,129.14 L269.03,129.00 L269.53,128.87 L270.02,128.75 L270.52,128.62 L271.01,128.50 L271.51,128.37 L272.01,128.25 L272.50,128.14 L273.00,128.02 L273.49,127.91 L273.99,127.80 L274.49,127.70 L274.98,127.60 L275.48,127.50 L275.97,127.41 L276.47,127.32 L276.96,127.24 L277.45,127.16 L277.95,127.09 L278.44,127.02 L278.93,126.95 L279.42,126.90 L279.91,126.84 L280.40,126.80 L280.89,126.76 L281.38,126.72 L281.86,126.69 L282.35,126.67 L282.83,126.66 L283.32,126.65 L283.80,126.65 L284.28,126.66 L284.76,126.67 L285.24,126.70 L285.71,126.73 L286.19,126.77 L286.66,126.82 L287.13,126.87 L287.60,126.94 L288.07,127.01 L288.54,127.10 L289.00,127.19 L289.46,127.29 L289.92,127.40 L290.38,127.53 L290.83,127.66 L291.29,127.80 L291.74,127.95 L292.19,128.11 L292.63,128.28 L293.07,128.45 L293.51,128.64 L293.95,128.84 L294.38,129.05 L294.81,129.26 L295.24,129.49 L295.66,129.73 L296.09,129.97 L296.50,130.22 L296.92,130.48 L297.33,130.75 L297.74,131.02 L298.15,131.30 L298.56,131.59 L298.97,131.87 L299.37,132.17 L299.77,132.46 L300.18,132.76 L300.58,133.06 L300.98,133.36 L301.38,133.67 L301.78,133.97 L302.18,134.28 L302.58,134.58 L302.98,134.88 L303.39,135.18 L303.79,135.48 L304.19,135.77 L304.60,136.06 L305.01,136.35 L305.42,136.63 L305.83,136.91 L306.24,137.18 L306.66,137.44 L307.07,137.69 L307.50,137.94 L307.92,138.18 L308.35,138.41 L308.78,138.63 L309.21,138.84 L309.65,139.04 L310.09,139.23 L310.54,139.41 L310.99,139.57 L311.45,139.72 L311.91,139.86 L312.37,139.98 L312.84,140.09 L313.32,140.18 L313.80,140.25 L314.29,140.31 L314.78,140.35 L315.28,140.38 L315.79,140.38 L316.30,140.37" fill="none" stroke="#F14040" stroke-width="2.10" stroke-linejoin="round" stroke-linecap="butt" clip-path="url(#ci)"/><path d="M198.55,142.59 L199.03,142.51 L199.50,142.43 L199.98,142.35 L200.46,142.27 L200.93,142.19 L201.41,142.11 L201.88,142.03 L202.36,141.95 L202.83,141.86 L203.31,141.78 L203.78,141.70 L204.25,141.62 L204.73,141.53 L205.20,141.45 L205.67,141.37 L206.14,141.28 L206.61,141.20 L207.08,141.11 L207.56,141.03 L208.03,140.94 L208.50,140.86 L208.96,140.77 L209.43,140.69 L209.90,140.60 L210.37,140.51 L210.84,140.42 L211.31,140.34 L211.78,140.25 L212.24,140.16 L212.71,140.07 L213.18,139.98 L213.64,139.90 L214.11,139.81 L214.58,139.72 L215.04,139.63 L215.51,139.54 L215.97,139.45 L216.44,139.36 L216.90,139.27 L217.37,139.17 L217.83,139.08 L218.30,138.99 L218.76,138.90 L219.22,138.81 L219.69,138.71 L220.15,138.62 L220.61,138.53 L221.08,138.44 L221.54,138.34 L222.00,138.25 L222.46,138.16 L222.93,138.06 L223.39,137.97 L223.85,137.87 L224.31,137.78 L224.77,137.68 L225.24,137.59 L225.70,137.49 L226.16,137.40 L226.62,137.30 L227.08,137.21 L227.54,137.11 L228.00,137.01 L228.47,136.92 L228.93,136.82 L229.39,136.72 L229.85,136.63 L230.31,136.53 L230.77,136.43 L231.23,136.33 L231.69,136.24 L232.15,136.14 L232.61,136.04 L233.07,135.94 L233.53,135.84 L234.00,135.74 L234.46,135.65 L234.92,135.55 L235.38,135.45 L235.84,135.35 L236.30,135.25 L236.76,135.15 L237.22,135.05 L237.68,134.95 L238.14,134.85 L238.60,134.75 L239.06,134.65 L239.53,134.55 L239.99,134.45 L240.45,134.35 L240.91,134.25 L241.37,134.15 L241.83,134.04 L242.29,133.94 L242.76,133.84 L243.22,133.74 L243.68,133.64 L244.14,133.54 L244.60,133.44 L245.07,133.33 L245.53,133.23 L245.99,133.13 L246.46,133.03 L246.92,132.93 L247.38,132.82 L247.85,132.72 L248.31,132.62 L248.77,132.52 L249.24,132.41 L249.70,132.31 L250.17,132.21 L250.63,132.10 L251.10,132.00 L251.56,131.90 L252.03,131.80 L252.49,131.69 L252.96,131.59 L253.42,131.49 L253.89,131.38 L254.36,131.28 L254.82,131.18 L255.29,131.07 L255.76,130.97 L256.23,130.87 L256.70,130.76 L257.16,130.66 L257.63,130.56 L258.10,130.45 L258.57,130.35 L259.04,130.24 L259.51,130.14 L259.98,130.04 L260.45,129.93 L260.92,129.83 L261.39,129.73 L261.87,129.62 L262.34,129.52 L262.81,129.41 L263.28,129.31 L263.76,129.21 L264.23,129.10 L264.71,129.00 L265.18,128.90 L265.66,128.79 L266.13,128.69 L266.61,128.58 L267.08,128.48 L267.56,128.38 L268.04,128.27 L268.51,128.17 L268.99,128.07 L269.47,127.97 L269.95,127.87 L270.43,127.77 L270.91,127.67 L271.38,127.57 L271.86,127.48 L272.34,127.39 L272.82,127.30 L273.30,127.21 L273.77,127.12 L274.25,127.04 L274.73,126.96 L275.20,126.88 L275.68,126.81 L276.15,126.74 L276.63,126.67 L277.10,126.61 L277.58,126.55 L278.05,126.50 L278.52,126.45 L278.99,126.40 L279.46,126.36 L279.93,126.33 L280.40,126.30 L280.87,126.27 L281.33,126.25 L281.80,126.24 L282.26,126.23 L282.72,126.23 L283.18,126.24 L283.64,126.25 L284.10,126.27 L284.55,126.29 L285.01,126.33 L285.46,126.37 L285.91,126.42 L286.36,126.47 L286.81,126.53 L287.26,126.61 L287.70,126.69 L288.14,126.77 L288.58,126.87 L289.02,126.98 L289.46,127.09 L289.89,127.21 L290.32,127.34 L290.75,127.48 L291.18,127.63 L291.60,127.78 L292.03,127.95 L292.45,128.12 L292.87,128.30 L293.29,128.48 L293.70,128.68 L294.12,128.88 L294.53,129.08 L294.94,129.30 L295.35,129.52 L295.75,129.75 L296.16,129.98 L296.56,130.22 L296.96,130.47 L297.36,130.72 L297.76,130.97 L298.16,131.23 L298.56,131.49 L298.96,131.76 L299.35,132.03 L299.75,132.30 L300.15,132.57 L300.54,132.84 L300.94,133.11 L301.33,133.39 L301.73,133.66 L302.12,133.93 L302.52,134.21 L302.92,134.48 L303.31,134.74 L303.71,135.01 L304.11,135.28 L304.51,135.54 L304.92,135.79 L305.32,136.05 L305.73,136.29 L306.13,136.54 L306.54,136.78 L306.95,137.01 L307.37,137.23 L307.78,137.45 L308.20,137.67 L308.62,137.87 L309.04,138.07 L309.47,138.25 L309.90,138.43 L310.33,138.60 L310.77,138.76 L311.20,138.91 L311.65,139.05 L312.09,139.18 L312.54,139.29 L312.99,139.40 L313.45,139.49 L313.91,139.57 L314.38,139.63 L314.85,139.68 L315.32,139.72 L315.80,139.74 L316.29,139.75" fill="none" stroke="#1A6FDF" stroke-width="2.10" stroke-linejoin="round" stroke-linecap="butt" clip-path="url(#ci)"/><path d="M198.60,123.31 L199.02,123.50 L199.44,123.69 L199.87,123.87 L200.29,124.05 L200.72,124.23 L201.14,124.40 L201.56,124.57 L201.99,124.73 L202.41,124.88 L202.84,125.04 L203.27,125.18 L203.69,125.33 L204.12,125.47 L204.55,125.60 L204.97,125.73 L205.40,125.86 L205.83,125.98 L206.26,126.10 L206.68,126.21 L207.11,126.32 L207.54,126.43 L207.97,126.53 L208.40,126.63 L208.83,126.72 L209.26,126.81 L209.69,126.90 L210.12,126.98 L210.55,127.06 L210.98,127.14 L211.41,127.21 L211.85,127.28 L212.28,127.34 L212.71,127.41 L213.14,127.46 L213.57,127.52 L214.01,127.57 L214.44,127.62 L214.87,127.66 L215.31,127.70 L215.74,127.74 L216.17,127.78 L216.61,127.81 L217.04,127.84 L217.48,127.87 L217.91,127.89 L218.35,127.91 L218.78,127.93 L219.22,127.94 L219.65,127.96 L220.09,127.97 L220.52,127.97 L220.96,127.98 L221.40,127.98 L221.83,127.98 L222.27,127.97 L222.71,127.97 L223.14,127.96 L223.58,127.95 L224.02,127.94 L224.45,127.92 L224.89,127.90 L225.33,127.88 L225.77,127.86 L226.20,127.84 L226.64,127.81 L227.08,127.78 L227.52,127.75 L227.96,127.72 L228.39,127.69 L228.83,127.65 L229.27,127.61 L229.71,127.57 L230.15,127.53 L230.59,127.49 L231.03,127.45 L231.47,127.40 L231.91,127.35 L232.35,127.30 L232.79,127.25 L233.22,127.20 L233.66,127.15 L234.10,127.09 L234.54,127.04 L234.98,126.98 L235.42,126.92 L235.86,126.86 L236.30,126.80 L236.74,126.74 L237.18,126.68 L237.62,126.62 L238.06,126.55 L238.50,126.49 L238.94,126.42 L239.39,126.36 L239.83,126.29 L240.27,126.22 L240.71,126.15 L241.15,126.08 L241.59,126.01 L242.03,125.94 L242.47,125.87 L242.91,125.80 L243.35,125.73 L243.79,125.65 L244.23,125.58 L244.67,125.51 L245.11,125.44 L245.55,125.36 L245.99,125.29 L246.43,125.22 L246.87,125.14 L247.31,125.07 L247.75,125.00 L248.19,124.92 L248.64,124.85 L249.08,124.78 L249.52,124.70 L249.96,124.63 L250.40,124.56 L250.84,124.49 L251.28,124.42 L251.72,124.34 L252.16,124.27 L252.60,124.20 L253.04,124.13 L253.48,124.07 L253.92,124.00 L254.36,123.93 L254.79,123.86 L255.23,123.80 L255.67,123.73 L256.11,123.67 L256.55,123.60 L256.99,123.54 L257.43,123.48 L257.87,123.42 L258.31,123.36 L258.75,123.30 L259.18,123.25 L259.62,123.19 L260.06,123.14 L260.50,123.08 L260.94,123.03 L261.38,122.98 L261.81,122.93 L262.25,122.89 L262.69,122.84 L263.13,122.80 L263.56,122.75 L264.00,122.71 L264.44,122.67 L264.87,122.64 L265.31,122.60 L265.75,122.57 L266.18,122.53 L266.62,122.50 L267.05,122.48 L267.49,122.45 L267.93,122.43 L268.36,122.40 L268.80,122.38 L269.23,122.37 L269.67,122.35 L270.10,122.34 L270.54,122.33 L270.97,122.32 L271.40,122.31 L271.84,122.31 L272.27,122.31 L272.70,122.31 L273.14,122.32 L273.57,122.32 L274.00,122.33 L274.44,122.34 L274.87,122.36 L275.30,122.38 L275.73,122.40 L276.16,122.42 L276.59,122.45 L277.02,122.48 L277.46,122.51 L277.89,122.54 L278.32,122.58 L278.75,122.62 L279.18,122.67 L279.60,122.72 L280.03,122.77 L280.46,122.82 L280.89,122.88 L281.32,122.94 L281.75,123.01 L282.17,123.08 L282.60,123.15 L283.02,123.22 L283.45,123.30 L283.87,123.39 L284.30,123.47 L284.72,123.56 L285.14,123.66 L285.56,123.75 L285.98,123.85 L286.40,123.96 L286.82,124.07 L287.23,124.18 L287.65,124.29 L288.07,124.42 L288.48,124.54 L288.89,124.67 L289.30,124.80 L289.71,124.94 L290.12,125.08 L290.53,125.22 L290.94,125.37 L291.34,125.52 L291.74,125.68 L292.14,125.84 L292.54,126.01 L292.94,126.18 L293.34,126.35 L293.73,126.53 L294.13,126.71 L294.52,126.90 L294.91,127.09 L295.30,127.29 L295.68,127.49 L296.07,127.69 L296.45,127.91 L296.83,128.12 L297.21,128.34 L297.59,128.56 L297.96,128.79 L298.33,129.03 L298.70,129.27 L299.07,129.51 L299.44,129.76 L299.80,130.01 L300.16,130.27 L300.52,130.54 L300.87,130.81 L301.23,131.08 L301.58,131.35 L301.93,131.63 L302.28,131.91 L302.63,132.20 L302.98,132.48 L303.33,132.76 L303.67,133.05 L304.02,133.33 L304.37,133.61 L304.72,133.89 L305.07,134.17 L305.42,134.44 L305.77,134.71 L306.13,134.98 L306.49,135.24 L306.84,135.49 L307.21,135.74 L307.57,135.98 L307.94,136.22 L308.31,136.45 L308.68,136.66 L309.06,136.87 L309.44,137.07 L309.83,137.26 L310.22,137.44 L310.62,137.61 L311.02,137.76 L311.42,137.90 L311.84,138.03 L312.25,138.14 L312.68,138.24 L313.11,138.33 L313.55,138.40 L313.99,138.45 L314.44,138.49 L314.90,138.50 L315.37,138.50 L315.85,138.48 L316.33,138.45" fill="none" stroke="#37AD6B" stroke-width="2.10" stroke-linejoin="round" stroke-linecap="butt" clip-path="url(#ci)"/><rect x="198.50" y="105.90" width="118.50" height="95.90" fill="none" stroke="#000" stroke-width="1.5"/><line x1="196.50" y1="105.90" x2="198.50" y2="105.90" stroke="#000" stroke-width="1.20"/><text x="195.40" y="108.90" font-size="9.30" text-anchor="end" font-weight="bold">10</text><line x1="196.50" y1="119.60" x2="198.50" y2="119.60" stroke="#000" stroke-width="1.20"/><text x="195.40" y="122.60" font-size="9.30" text-anchor="end" font-weight="bold">5</text><line x1="196.50" y1="133.30" x2="198.50" y2="133.30" stroke="#000" stroke-width="1.20"/><text x="195.40" y="136.30" font-size="9.30" text-anchor="end" font-weight="bold">0</text><line x1="196.50" y1="147.00" x2="198.50" y2="147.00" stroke="#000" stroke-width="1.20"/><text x="195.40" y="150.00" font-size="9.30" text-anchor="end" font-weight="bold">-5</text><line x1="196.50" y1="160.70" x2="198.50" y2="160.70" stroke="#000" stroke-width="1.20"/><text x="195.40" y="163.70" font-size="9.30" text-anchor="end" font-weight="bold">-10</text><line x1="196.50" y1="174.40" x2="198.50" y2="174.40" stroke="#000" stroke-width="1.20"/><text x="195.40" y="177.40" font-size="9.30" text-anchor="end" font-weight="bold">-15</text><line x1="196.50" y1="188.10" x2="198.50" y2="188.10" stroke="#000" stroke-width="1.20"/><text x="195.40" y="191.10" font-size="9.30" text-anchor="end" font-weight="bold">-20</text><line x1="196.50" y1="201.80" x2="198.50" y2="201.80" stroke="#000" stroke-width="1.20"/><text x="195.40" y="204.80" font-size="9.30" text-anchor="end" font-weight="bold">-25</text><line x1="203.80" y1="201.80" x2="203.80" y2="203.80" stroke="#000" stroke-width="1.20"/><text x="203.80" y="212.20" font-size="9.30" text-anchor="middle" font-weight="bold">10</text><line x1="234.86" y1="201.80" x2="234.86" y2="203.80" stroke="#000" stroke-width="1.20"/><text x="234.86" y="212.20" font-size="9.30" text-anchor="middle" font-weight="bold">15</text><line x1="256.90" y1="201.80" x2="256.90" y2="203.80" stroke="#000" stroke-width="1.20"/><text x="256.90" y="212.20" font-size="9.30" text-anchor="middle" font-weight="bold">20</text><line x1="274.00" y1="201.80" x2="274.00" y2="203.80" stroke="#000" stroke-width="1.20"/><text x="274.00" y="212.20" font-size="9.30" text-anchor="middle" font-weight="bold">25</text><line x1="287.96" y1="201.80" x2="287.96" y2="203.80" stroke="#000" stroke-width="1.20"/><text x="287.96" y="212.20" font-size="9.30" text-anchor="middle" font-weight="bold">30</text><line x1="299.77" y1="201.80" x2="299.77" y2="203.80" stroke="#000" stroke-width="1.20"/><text x="299.77" y="212.20" font-size="9.30" text-anchor="middle" font-weight="bold">35</text><line x1="310.00" y1="201.80" x2="310.00" y2="203.80" stroke="#000" stroke-width="1.20"/><text x="310.00" y="212.20" font-size="9.30" text-anchor="middle" font-weight="bold">40</text><text x="211.3" y="224.8" font-size="10" font-weight="bold">Frequency (cm<tspan dy="-4.4" font-size="6.5">-1</tspan><tspan dy="4.4">) x10</tspan><tspan dy="-5.4" font-size="6.5">3</tspan></text><g transform="translate(179.2,152.3) rotate(-90)"><text x="0" y="0" font-size="10.5" font-weight="bold">ε<tspan dy="2.7" font-size="7" font-weight="normal">1</tspan></text></g><rect x="51.00" y="4.70" width="279.90" height="226.20" fill="none" stroke="#000" stroke-width="2"/><line x1="46.50" y1="4.70" x2="51.00" y2="4.70" stroke="#000" stroke-width="1.50"/><text x="42.30" y="8.10" font-size="10.20" text-anchor="end" font-weight="bold">50</text><line x1="48.50" y1="18.01" x2="51.00" y2="18.01" stroke="#000" stroke-width="1.50"/><line x1="46.50" y1="31.31" x2="51.00" y2="31.31" stroke="#000" stroke-width="1.50"/><text x="42.30" y="34.71" font-size="10.20" text-anchor="end" font-weight="bold">0</text><line x1="48.50" y1="44.62" x2="51.00" y2="44.62" stroke="#000" stroke-width="1.50"/><line x1="46.50" y1="57.92" x2="51.00" y2="57.92" stroke="#000" stroke-width="1.50"/><text x="42.30" y="61.32" font-size="10.20" text-anchor="end" font-weight="bold">-50</text><line x1="48.50" y1="71.23" x2="51.00" y2="71.23" stroke="#000" stroke-width="1.50"/><line x1="46.50" y1="84.54" x2="51.00" y2="84.54" stroke="#000" stroke-width="1.50"/><text x="42.30" y="87.94" font-size="10.20" text-anchor="end" font-weight="bold">-100</text><line x1="48.50" y1="97.84" x2="51.00" y2="97.84" stroke="#000" stroke-width="1.50"/><line x1="46.50" y1="111.15" x2="51.00" y2="111.15" stroke="#000" stroke-width="1.50"/><text x="42.30" y="114.55" font-size="10.20" text-anchor="end" font-weight="bold">-150</text><line x1="48.50" y1="124.45" x2="51.00" y2="124.45" stroke="#000" stroke-width="1.50"/><line x1="46.50" y1="137.76" x2="51.00" y2="137.76" stroke="#000" stroke-width="1.50"/><text x="42.30" y="141.16" font-size="10.20" text-anchor="end" font-weight="bold">-200</text><line x1="48.50" y1="151.06" x2="51.00" y2="151.06" stroke="#000" stroke-width="1.50"/><line x1="46.50" y1="164.37" x2="51.00" y2="164.37" stroke="#000" stroke-width="1.50"/><text x="42.30" y="167.77" font-size="10.20" text-anchor="end" font-weight="bold">-250</text><line x1="48.50" y1="177.68" x2="51.00" y2="177.68" stroke="#000" stroke-width="1.50"/><line x1="46.50" y1="190.98" x2="51.00" y2="190.98" stroke="#000" stroke-width="1.50"/><text x="42.30" y="194.38" font-size="10.20" text-anchor="end" font-weight="bold">-300</text><line x1="48.50" y1="204.29" x2="51.00" y2="204.29" stroke="#000" stroke-width="1.50"/><line x1="46.50" y1="217.59" x2="51.00" y2="217.59" stroke="#000" stroke-width="1.50"/><text x="42.30" y="220.99" font-size="10.20" text-anchor="end" font-weight="bold">-350</text><line x1="48.50" y1="230.90" x2="51.00" y2="230.90" stroke="#000" stroke-width="1.50"/><line x1="51.00" y1="230.90" x2="51.00" y2="235.40" stroke="#000" stroke-width="1.50"/><text x="51.00" y="246.60" font-size="10.20" text-anchor="middle" font-weight="bold">100</text><line x1="81.64" y1="230.90" x2="81.64" y2="233.40" stroke="#000" stroke-width="1.50"/><line x1="99.57" y1="230.90" x2="99.57" y2="233.40" stroke="#000" stroke-width="1.50"/><line x1="112.29" y1="230.90" x2="112.29" y2="233.40" stroke="#000" stroke-width="1.50"/><line x1="122.16" y1="230.90" x2="122.16" y2="233.40" stroke="#000" stroke-width="1.50"/><line x1="130.22" y1="230.90" x2="130.22" y2="233.40" stroke="#000" stroke-width="1.50"/><line x1="137.03" y1="230.90" x2="137.03" y2="233.40" stroke="#000" stroke-width="1.50"/><line x1="142.93" y1="230.90" x2="142.93" y2="233.40" stroke="#000" stroke-width="1.50"/><line x1="148.14" y1="230.90" x2="148.14" y2="233.40" stroke="#000" stroke-width="1.50"/><line x1="152.80" y1="230.90" x2="152.80" y2="235.40" stroke="#000" stroke-width="1.50"/><text x="152.80" y="246.60" font-size="10.20" text-anchor="middle" font-weight="bold">1000</text><line x1="183.44" y1="230.90" x2="183.44" y2="233.40" stroke="#000" stroke-width="1.50"/><line x1="201.37" y1="230.90" x2="201.37" y2="233.40" stroke="#000" stroke-width="1.50"/><line x1="214.09" y1="230.90" x2="214.09" y2="233.40" stroke="#000" stroke-width="1.50"/><line x1="223.96" y1="230.90" x2="223.96" y2="233.40" stroke="#000" stroke-width="1.50"/><line x1="232.02" y1="230.90" x2="232.02" y2="233.40" stroke="#000" stroke-width="1.50"/><line x1="238.83" y1="230.90" x2="238.83" y2="233.40" stroke="#000" stroke-width="1.50"/><line x1="244.73" y1="230.90" x2="244.73" y2="233.40" stroke="#000" stroke-width="1.50"/><line x1="249.94" y1="230.90" x2="249.94" y2="233.40" stroke="#000" stroke-width="1.50"/><line x1="254.60" y1="230.90" x2="254.60" y2="235.40" stroke="#000" stroke-width="1.50"/><text x="254.60" y="246.60" font-size="10.20" text-anchor="middle" font-weight="bold">10000</text><line x1="285.24" y1="230.90" x2="285.24" y2="233.40" stroke="#000" stroke-width="1.50"/><line x1="303.17" y1="230.90" x2="303.17" y2="233.40" stroke="#000" stroke-width="1.50"/><line x1="315.89" y1="230.90" x2="315.89" y2="233.40" stroke="#000" stroke-width="1.50"/><line x1="325.76" y1="230.90" x2="325.76" y2="233.40" stroke="#000" stroke-width="1.50"/><text x="60.00" y="25.60" font-size="15.50" text-anchor="start" font-weight="bold">(a)</text><text x="144.6" y="268.0" font-size="12.8" font-weight="bold">Frequency (cm<tspan dy="-4.6" font-size="7.6">-1</tspan><tspan dy="4.6">)</tspan></text><g transform="translate(7.8,117.0) rotate(-90)"><text x="0" y="0" font-size="13" font-weight="bold">ε<tspan dy="3.1" font-size="8.5" font-weight="normal">1</tspan></text></g><path d="M391.40,230.78 L391.98,230.78 L392.56,230.78 L393.13,230.77 L393.71,230.76 L394.29,230.75 L394.86,230.74 L395.44,230.72 L396.02,230.70 L396.59,230.68 L397.17,230.66 L397.75,230.64 L398.32,230.61 L398.90,230.59 L399.48,230.56 L400.05,230.53 L400.63,230.49 L401.21,230.46 L401.78,230.42 L402.36,230.38 L402.94,230.34 L403.52,230.30 L404.09,230.26 L404.67,230.21 L405.25,230.16 L405.82,230.12 L406.40,230.06 L406.98,230.01 L407.55,229.96 L408.13,229.90 L408.71,229.85 L409.28,229.79 L409.86,229.73 L410.44,229.66 L411.01,229.60 L411.59,229.54 L412.17,229.47 L412.74,229.40 L413.32,229.33 L413.89,229.26 L414.47,229.19 L415.04,229.11 L415.62,229.04 L416.20,228.96 L416.77,228.88 L417.35,228.80 L417.92,228.72 L418.49,228.64 L419.07,228.56 L419.64,228.48 L420.22,228.39 L420.79,228.30 L421.37,228.21 L421.94,228.13 L422.51,228.04 L423.08,227.94 L423.66,227.85 L424.23,227.76 L424.80,227.66 L425.37,227.57 L425.95,227.47 L426.52,227.37 L427.09,227.27 L427.66,227.17 L428.23,227.07 L428.80,226.97 L429.37,226.87 L429.94,226.76 L430.51,226.66 L431.08,226.55 L431.65,226.45 L432.22,226.34 L432.79,226.23 L433.35,226.12 L433.92,226.01 L434.49,225.90 L435.06,225.79 L435.62,225.68 L436.19,225.57 L436.75,225.45 L437.32,225.34 L437.88,225.23 L438.45,225.11 L439.01,225.00 L439.58,224.88 L440.14,224.76 L440.70,224.65 L441.27,224.53 L441.83,224.41 L442.39,224.29 L442.95,224.17 L443.51,224.05 L444.07,223.92 L444.63,223.80 L445.19,223.67 L445.75,223.55 L446.31,223.42 L446.87,223.29 L447.43,223.16 L447.99,223.03 L448.54,222.89 L449.10,222.76 L449.66,222.62 L450.21,222.48 L450.77,222.34 L451.32,222.20 L451.88,222.05 L452.43,221.91 L452.99,221.76 L453.54,221.61 L454.10,221.45 L454.65,221.30 L455.20,221.14 L455.76,220.98 L456.31,220.82 L456.86,220.65 L457.41,220.48 L457.96,220.31 L458.51,220.14 L459.06,219.96 L459.61,219.78 L460.16,219.60 L460.71,219.42 L461.26,219.23 L461.81,219.04 L462.36,218.84 L462.91,218.64 L463.46,218.44 L464.00,218.24 L464.55,218.03 L465.10,217.82 L465.64,217.60 L466.19,217.38 L466.74,217.16 L467.28,216.93 L467.83,216.70 L468.37,216.47 L468.92,216.23 L469.46,215.98 L470.00,215.74 L470.55,215.48 L471.08,215.23 L471.62,214.97 L472.16,214.70 L472.69,214.43 L473.22,214.15 L473.74,213.87 L474.26,213.58 L474.77,213.29 L475.28,212.99 L475.78,212.68 L476.27,212.37 L476.76,212.05 L477.24,211.72 L477.71,211.39 L478.18,211.05 L478.63,210.70 L479.08,210.35 L479.52,209.99 L479.96,209.62 L480.39,209.25 L480.81,208.87 L481.22,208.48 L481.63,208.09 L482.02,207.69 L482.42,207.29 L482.80,206.88 L483.18,206.47 L483.55,206.05 L483.92,205.62 L484.28,205.19 L484.64,204.76 L484.98,204.32 L485.33,203.87 L485.66,203.42 L485.99,202.97 L486.32,202.51 L486.64,202.04 L486.95,201.57 L487.26,201.10 L487.56,200.62 L487.86,200.14 L488.15,199.65 L488.44,199.16 L488.72,198.67 L489.00,198.17 L489.27,197.67 L489.54,197.17 L489.80,196.66 L490.06,196.15 L490.32,195.63 L490.57,195.11 L490.81,194.59 L491.06,194.07 L491.29,193.54 L491.53,193.01 L491.76,192.48 L491.99,191.94 L492.21,191.41 L492.43,190.87 L492.65,190.32 L492.86,189.78 L493.07,189.23 L493.28,188.68 L493.48,188.13 L493.69,187.58 L493.88,187.03 L494.08,186.47 L494.27,185.91 L494.46,185.36 L494.65,184.80 L494.84,184.24 L495.02,183.67 L495.20,183.11 L495.38,182.55 L495.56,181.98 L495.74,181.42 L495.91,180.85 L496.08,180.29 L496.25,179.72 L496.42,179.15 L496.59,178.59 L496.76,178.02 L496.93,177.45 L497.09,176.89 L497.25,176.32 L497.42,175.75 L497.58,175.19 L497.74,174.62 L497.90,174.06 L498.06,173.49 L498.22,172.93 L498.38,172.36 L498.53,171.80 L498.69,171.24 L498.84,170.67 L499.00,170.11 L499.15,169.55 L499.30,168.98 L499.45,168.42 L499.61,167.86 L499.76,167.30 L499.90,166.73 L500.05,166.17 L500.20,165.61 L500.35,165.05 L500.49,164.49 L500.64,163.93 L500.78,163.36 L500.93,162.80 L501.07,162.24 L501.21,161.68 L501.35,161.12 L501.49,160.56 L501.63,160.00 L501.77,159.44 L501.91,158.88 L502.04,158.32 L502.18,157.76 L502.31,157.20 L502.45,156.64 L502.58,156.08 L502.71,155.52 L502.85,154.96 L502.98,154.40 L503.11,153.84 L503.24,153.28 L503.37,152.72 L503.49,152.16 L503.62,151.60 L503.75,151.04 L503.87,150.48 L504.00,149.92 L504.12,149.36 L504.25,148.80 L504.37,148.24 L504.49,147.68 L504.61,147.12 L504.73,146.56 L504.85,146.00 L504.97,145.44 L505.09,144.88 L505.21,144.32 L505.32,143.76 L505.44,143.19 L505.56,142.63 L505.67,142.07 L505.78,141.51 L505.90,140.95 L506.01,140.39 L506.12,139.82 L506.23,139.26 L506.34,138.70 L506.45,138.13 L506.56,137.57 L506.67,137.01 L506.78,136.44 L506.88,135.88 L506.99,135.32 L507.09,134.75 L507.20,134.19 L507.30,133.62 L507.41,133.06 L507.51,132.49 L507.61,131.92 L507.71,131.36 L507.81,130.79 L507.91,130.22 L508.01,129.66 L508.11,129.09 L508.21,128.52 L508.30,127.96 L508.40,127.39 L508.50,126.82 L508.59,126.25 L508.69,125.68 L508.78,125.11 L508.88,124.54 L508.97,123.98 L509.06,123.41 L509.16,122.84 L509.25,122.27 L509.34,121.70 L509.43,121.13 L509.52,120.56 L509.61,119.99 L509.70,119.41 L509.79,118.84 L509.88,118.27 L509.96,117.70 L510.05,117.13 L510.14,116.56 L510.22,115.99 L510.31,115.41 L510.39,114.84 L510.48,114.27 L510.56,113.70 L510.65,113.13 L510.73,112.55 L510.82,111.98 L510.90,111.41 L510.98,110.83 L511.06,110.26 L511.15,109.69 L511.23,109.11 L511.31,108.54 L511.39,107.97 L511.47,107.39 L511.55,106.82 L511.63,106.24 L511.71,105.67 L511.79,105.10 L511.87,104.52 L511.95,103.95 L512.02,103.37 L512.10,102.80 L512.18,102.22 L512.26,101.65 L512.34,101.08 L512.41,100.50 L512.49,99.93 L512.57,99.35 L512.64,98.78 L512.72,98.20 L512.79,97.63 L512.87,97.05 L512.95,96.48 L513.02,95.90 L513.10,95.33 L513.17,94.75 L513.25,94.17 L513.32,93.60 L513.40,93.02 L513.47,92.45 L513.54,91.87 L513.62,91.30 L513.69,90.72 L513.77,90.15 L513.84,89.57 L513.91,89.00 L513.99,88.42 L514.06,87.85 L514.13,87.27 L514.21,86.70 L514.28,86.12 L514.35,85.55 L514.43,84.97 L514.50,84.40 L514.57,83.82 L514.65,83.25 L514.72,82.67 L514.79,82.10 L514.87,81.52 L514.94,80.95 L515.01,80.37 L515.09,79.80 L515.16,79.22 L515.23,78.65 L515.31,78.07 L515.38,77.50 L515.45,76.93 L515.53,76.35 L515.60,75.78 L515.67,75.20 L515.75,74.63 L515.82,74.06 L515.90,73.48 L515.97,72.91 L516.05,72.34 L516.12,71.76 L516.19,71.19 L516.27,70.62 L516.34,70.04 L516.42,69.47 L516.49,68.90 L516.57,68.33 L516.65,67.75 L516.72,67.18 L516.80,66.61 L516.87,66.04 L516.95,65.47 L517.03,64.89 L517.10,64.32 L517.18,63.75 L517.26,63.18 L517.34,62.61 L517.41,62.04 L517.49,61.47 L517.57,60.90 L517.65,60.33 L517.73,59.76 L517.81,59.19 L517.89,58.62 L517.97,58.05 L518.05,57.48 L518.13,56.91 L518.21,56.34 L518.29,55.77 L518.38,55.21 L518.46,54.64 L518.55,54.07 L518.64,53.50 L518.73,52.93 L518.82,52.36 L518.91,51.79 L519.00,51.22 L519.10,50.66 L519.20,50.09 L519.29,49.52 L519.40,48.95 L519.50,48.38 L519.60,47.81 L519.71,47.24 L519.82,46.67 L519.93,46.10 L520.05,45.53 L520.16,44.96 L520.28,44.39 L520.41,43.82 L520.53,43.25 L520.66,42.68 L520.79,42.11 L520.93,41.53 L521.06,40.96 L521.20,40.39 L521.35,39.82 L521.50,39.24 L521.65,38.67 L521.80,38.09 L521.96,37.52 L522.13,36.94 L522.29,36.37 L522.46,35.79 L522.64,35.22 L522.82,34.64 L523.00,34.06 L523.19,33.48 L523.38,32.90 L523.58,32.32 L523.78,31.74 L523.99,31.16 L524.20,30.58 L524.42,30.01 L524.64,29.44 L524.87,28.90 L525.11,28.38 L525.35,27.89 L525.60,27.44 L525.86,27.04 L526.13,26.68 L526.40,26.39 L526.69,26.16 L526.99,26.01 L527.29,25.93 L527.61,25.93 L527.94,26.02 L528.27,26.18 L528.61,26.42 L528.94,26.71 L529.27,27.06 L529.59,27.46 L529.90,27.91 L530.20,28.39 L530.48,28.90 L530.74,29.43 L530.98,29.99 L531.19,30.55 L531.38,31.13 L531.55,31.72 L531.70,32.31 L531.84,32.91 L531.96,33.52 L532.07,34.13 L532.18,34.74 L532.28,35.36 L532.37,35.97 L532.47,36.59 L532.57,37.20 L532.66,37.81 L532.76,38.41 L532.86,39.02 L532.96,39.62 L533.06,40.22 L533.17,40.82 L533.27,41.41 L533.37,42.01 L533.48,42.60 L533.58,43.19 L533.69,43.78 L533.79,44.36 L533.90,44.95 L534.01,45.53 L534.12,46.11 L534.23,46.69 L534.34,47.27 L534.45,47.85 L534.56,48.42 L534.67,49.00 L534.78,49.57 L534.90,50.14 L535.01,50.71 L535.13,51.28 L535.24,51.85 L535.36,52.41 L535.47,52.98 L535.59,53.54 L535.70,54.10 L535.82,54.67 L535.94,55.23 L536.06,55.79 L536.17,56.35 L536.29,56.91 L536.41,57.46 L536.53,58.02 L536.65,58.58 L536.77,59.13 L536.89,59.69 L537.01,60.25 L537.13,60.80 L537.25,61.35 L537.37,61.91 L537.49,62.46 L537.61,63.02 L537.74,63.57 L537.86,64.12 L537.98,64.67 L538.10,65.23 L538.22,65.78 L538.35,66.33 L538.47,66.88 L538.59,67.44 L538.71,67.99 L538.83,68.54 L538.96,69.10 L539.08,69.65 L539.20,70.20 L539.32,70.76 L539.45,71.31 L539.57,71.87 L539.69,72.42 L539.81,72.98 L539.93,73.54 L540.05,74.09 L540.18,74.65 L540.30,75.21 L540.42,75.77 L540.54,76.33 L540.66,76.89 L540.78,77.45 L540.90,78.01 L541.02,78.57 L541.15,79.14 L541.27,79.70 L541.39,80.26 L541.51,80.83 L541.63,81.39 L541.75,81.96 L541.88,82.52 L542.00,83.08 L542.12,83.65 L542.25,84.22 L542.37,84.78 L542.49,85.35 L542.62,85.91 L542.74,86.48 L542.87,87.05 L542.99,87.61 L543.12,88.18 L543.25,88.75 L543.38,89.32 L543.50,89.88 L543.63,90.45 L543.76,91.02 L543.89,91.59 L544.02,92.15 L544.16,92.72 L544.29,93.29 L544.42,93.86 L544.55,94.42 L544.69,94.99 L544.83,95.56 L544.96,96.13 L545.10,96.69 L545.24,97.26 L545.38,97.83 L545.52,98.39 L545.66,98.96 L545.80,99.53 L545.95,100.09 L546.09,100.66 L546.24,101.22 L546.38,101.79 L546.53,102.35 L546.68,102.92 L546.83,103.48 L546.98,104.05 L547.14,104.61 L547.29,105.17 L547.45,105.74 L547.61,106.30 L547.76,106.86 L547.93,107.42 L548.09,107.98 L548.25,108.54 L548.42,109.10 L548.58,109.66 L548.75,110.22 L548.92,110.77 L549.09,111.33 L549.26,111.89 L549.44,112.44 L549.61,113.00 L549.79,113.55 L549.97,114.11 L550.15,114.66 L550.34,115.21 L550.52,115.76 L550.71,116.31 L550.90,116.86 L551.09,117.41 L551.28,117.96 L551.47,118.51 L551.67,119.05 L551.87,119.60 L552.07,120.14 L552.27,120.69 L552.48,121.23 L552.69,121.77 L552.89,122.31 L553.11,122.85 L553.32,123.39 L553.54,123.93 L553.75,124.46 L553.97,125.00 L554.20,125.53 L554.42,126.07 L554.65,126.60 L554.88,127.13 L555.11,127.66 L555.35,128.19 L555.58,128.71 L555.82,129.24 L556.07,129.76 L556.31,130.29 L556.56,130.81 L556.81,131.33 L557.06,131.85 L557.32,132.36 L557.58,132.88 L557.84,133.40 L558.10,133.91 L558.37,134.42 L558.64,134.93 L558.91,135.44 L559.18,135.95 L559.46,136.45 L559.74,136.96 L560.03,137.46 L560.31,137.96 L560.60,138.46 L560.89,138.96 L561.19,139.46 L561.49,139.95 L561.79,140.45 L562.10,140.94 L562.40,141.43 L562.72,141.91 L563.03,142.40 L563.35,142.88 L563.67,143.37 L563.99,143.85 L564.32,144.33 L564.65,144.80 L564.99,145.28 L565.32,145.75 L565.67,146.22 L566.01,146.69 L566.36,147.16 L566.71,147.63 L567.07,148.09 L567.42,148.55 L567.79,149.01 L568.15,149.46 L568.52,149.91 L568.89,150.36 L569.27,150.80 L569.65,151.24 L570.03,151.68 L570.42,152.11 L570.81,152.54 L571.20,152.96 L571.60,153.38 L572.00,153.80 L572.41,154.21 L572.82,154.62 L573.23,155.02 L573.65,155.41 L574.07,155.80 L574.49,156.19 L574.92,156.57 L575.35,156.94 L575.78,157.31 L576.22,157.67 L576.66,158.03 L577.11,158.38 L577.56,158.72 L578.01,159.05 L578.47,159.38 L578.93,159.70 L579.40,160.02 L579.86,160.33 L580.34,160.63 L580.81,160.92 L581.29,161.20 L581.78,161.48 L582.27,161.75 L582.76,162.01 L583.26,162.26 L583.76,162.50 L584.26,162.74 L584.77,162.96 L585.28,163.18 L585.80,163.38 L586.32,163.58 L586.84,163.77 L587.37,163.95 L587.90,164.12 L588.44,164.28 L588.98,164.42 L589.52,164.56 L590.07,164.69 L590.62,164.81 L591.18,164.91 L591.74,165.01 L592.30,165.10 L592.87,165.18 L593.44,165.25 L594.01,165.31 L594.58,165.36 L595.16,165.40 L595.74,165.43 L596.32,165.45 L596.91,165.46 L597.49,165.47 L598.08,165.47 L598.67,165.46 L599.26,165.44 L599.85,165.41 L600.44,165.37 L601.04,165.33 L601.63,165.28 L602.22,165.22 L602.82,165.15 L603.41,165.08 L604.01,165.00 L604.60,164.91 L605.20,164.82 L605.79,164.72 L606.39,164.61 L606.98,164.50 L607.57,164.38 L608.16,164.25 L608.75,164.12 L609.34,163.98 L609.92,163.84 L610.51,163.69 L611.09,163.53 L611.67,163.37 L612.25,163.21 L612.82,163.04 L613.39,162.86 L613.96,162.68 L614.53,162.50 L615.09,162.31 L615.65,162.11 L616.21,161.92 L616.76,161.71 L617.31,161.51 L617.86,161.29 L618.41,161.08 L618.95,160.86 L619.49,160.64 L620.02,160.41 L620.56,160.18 L621.09,159.94 L621.62,159.70 L622.14,159.45 L622.66,159.21 L623.18,158.95 L623.70,158.70 L624.21,158.44 L624.72,158.18 L625.23,157.91 L625.74,157.64 L626.24,157.36 L626.74,157.09 L627.24,156.80 L627.74,156.52 L628.23,156.23 L628.72,155.94 L629.21,155.64 L629.70,155.35 L630.18,155.04 L630.66,154.74 L631.14,154.43 L631.62,154.12 L632.10,153.81 L632.57,153.49 L633.04,153.17 L633.51,152.84 L633.98,152.52 L634.44,152.19 L634.90,151.86 L635.36,151.52 L635.82,151.18 L636.28,150.84 L636.74,150.50 L637.19,150.16 L637.64,149.81 L638.09,149.46 L638.54,149.10 L638.99,148.75 L639.43,148.39 L639.87,148.03 L640.32,147.67 L640.76,147.30 L641.19,146.93 L641.63,146.56 L642.07,146.19 L642.50,145.82 L642.93,145.44 L643.36,145.07 L643.79,144.69 L644.22,144.30 L644.65,143.92 L645.07,143.54 L645.50,143.15 L645.92,142.76 L646.34,142.37 L646.76,141.98 L647.18,141.58 L647.60,141.19 L648.02,140.79 L648.44,140.39 L648.85,139.99 L649.27,139.59 L649.68,139.19 L650.09,138.78 L650.50,138.38 L650.92,137.97 L651.33,137.56 L651.74,137.15 L652.14,136.74 L652.55,136.33 L652.96,135.92 L653.37,135.51 L653.77,135.09 L654.18,134.68 L654.58,134.26 L654.99,133.84 L655.39,133.43 L655.79,133.01 L656.19,132.59 L656.60,132.17 L657.00,131.75 L657.40,131.33 L657.80,130.91 L658.20,130.49 L658.60,130.06 L659.00,129.64 L659.40,129.22 L659.80,128.80 L660.20,128.37 L660.60,127.95 L661.00,127.53 L661.40,127.10 L661.80,126.68 L662.20,126.25 L662.60,125.83 L663.00,125.41 L663.40,124.98 L663.80,124.56 L664.20,124.13 L664.60,123.71 L665.00,123.29 L665.40,122.87 L665.80,122.44 L666.20,122.02 L666.61,121.60 L667.01,121.18 L667.41,120.76 L667.81,120.34 L668.22,119.92 L668.62,119.50 L669.02,119.08 L669.43,118.67 L669.83,118.25 L670.24,117.83 L670.65,117.42 L671.05,117.00" fill="none" stroke="#515151" stroke-width="2.20" stroke-linejoin="round" stroke-linecap="butt" clip-path="url(#cb)"/><path d="M391.47,230.71 L391.92,230.55 L392.37,230.39 L392.82,230.24 L393.27,230.08 L393.72,229.93 L394.18,229.78 L394.63,229.63 L395.09,229.48 L395.54,229.33 L395.99,229.19 L396.45,229.04 L396.91,228.90 L397.36,228.75 L397.82,228.61 L398.28,228.47 L398.73,228.33 L399.19,228.20 L399.65,228.06 L400.11,227.92 L400.57,227.79 L401.02,227.66 L401.48,227.52 L401.94,227.39 L402.40,227.26 L402.86,227.13 L403.32,227.00 L403.78,226.87 L404.24,226.74 L404.70,226.61 L405.17,226.48 L405.63,226.36 L406.09,226.23 L406.55,226.10 L407.01,225.98 L407.47,225.85 L407.93,225.73 L408.40,225.60 L408.86,225.48 L409.32,225.35 L409.78,225.23 L410.24,225.10 L410.71,224.98 L411.17,224.86 L411.63,224.73 L412.09,224.61 L412.55,224.48 L413.02,224.36 L413.48,224.23 L413.94,224.11 L414.40,223.98 L414.86,223.86 L415.33,223.73 L415.79,223.61 L416.25,223.48 L416.71,223.35 L417.17,223.22 L417.63,223.10 L418.09,222.97 L418.55,222.84 L419.01,222.71 L419.47,222.58 L419.93,222.45 L420.39,222.31 L420.85,222.18 L421.31,222.05 L421.77,221.91 L422.23,221.78 L422.69,221.64 L423.14,221.50 L423.60,221.36 L424.06,221.22 L424.52,221.08 L424.97,220.94 L425.43,220.80 L425.88,220.65 L426.34,220.50 L426.80,220.36 L427.25,220.21 L427.70,220.06 L428.16,219.91 L428.61,219.75 L429.06,219.60 L429.52,219.44 L429.97,219.28 L430.42,219.12 L430.87,218.96 L431.32,218.80 L431.77,218.63 L432.22,218.47 L432.67,218.30 L433.11,218.13 L433.56,217.95 L434.01,217.78 L434.45,217.60 L434.90,217.42 L435.34,217.24 L435.79,217.06 L436.23,216.87 L436.67,216.69 L437.11,216.50 L437.56,216.31 L438.00,216.11 L438.43,215.92 L438.87,215.72 L439.31,215.52 L439.75,215.32 L440.18,215.11 L440.61,214.90 L441.05,214.69 L441.48,214.48 L441.91,214.27 L442.34,214.05 L442.76,213.83 L443.19,213.61 L443.62,213.39 L444.04,213.16 L444.46,212.94 L444.88,212.71 L445.30,212.47 L445.72,212.24 L446.13,212.00 L446.55,211.76 L446.96,211.52 L447.37,211.28 L447.78,211.03 L448.19,210.78 L448.59,210.53 L449.00,210.27 L449.40,210.02 L449.80,209.76 L450.20,209.50 L450.59,209.23 L450.99,208.96 L451.38,208.70 L451.77,208.42 L452.16,208.15 L452.54,207.87 L452.92,207.59 L453.31,207.31 L453.68,207.03 L454.06,206.74 L454.43,206.45 L454.81,206.16 L455.17,205.86 L455.54,205.56 L455.90,205.26 L456.27,204.96 L456.63,204.65 L456.98,204.34 L457.33,204.03 L457.69,203.72 L458.03,203.40 L458.38,203.08 L458.72,202.76 L459.06,202.43 L459.40,202.10 L459.73,201.77 L460.06,201.44 L460.39,201.10 L460.71,200.76 L461.04,200.42 L461.35,200.08 L461.67,199.73 L461.98,199.38 L462.29,199.02 L462.60,198.67 L462.90,198.31 L463.20,197.95 L463.49,197.58 L463.78,197.21 L464.07,196.84 L464.36,196.47 L464.64,196.09 L464.92,195.71 L465.20,195.33 L465.47,194.94 L465.74,194.56 L466.01,194.17 L466.27,193.77 L466.53,193.38 L466.79,192.98 L467.04,192.58 L467.29,192.18 L467.54,191.77 L467.79,191.37 L468.03,190.96 L468.28,190.55 L468.52,190.14 L468.75,189.72 L468.99,189.30 L469.22,188.88 L469.45,188.46 L469.67,188.04 L469.90,187.62 L470.12,187.19 L470.34,186.76 L470.56,186.33 L470.77,185.90 L470.99,185.47 L471.20,185.03 L471.41,184.60 L471.62,184.16 L471.82,183.72 L472.03,183.28 L472.23,182.84 L472.43,182.40 L472.63,181.96 L472.83,181.51 L473.02,181.07 L473.22,180.62 L473.41,180.17 L473.60,179.72 L473.79,179.27 L473.98,178.82 L474.17,178.37 L474.35,177.92 L474.54,177.47 L474.72,177.01 L474.90,176.56 L475.08,176.10 L475.26,175.65 L475.44,175.19 L475.62,174.74 L475.80,174.28 L475.97,173.82 L476.15,173.37 L476.33,172.91 L476.50,172.45 L476.67,171.99 L476.85,171.54 L477.02,171.08 L477.19,170.62 L477.36,170.16 L477.53,169.70 L477.70,169.25 L477.87,168.79 L478.04,168.33 L478.21,167.88 L478.38,167.42 L478.55,166.96 L478.72,166.51 L478.89,166.05 L479.06,165.60 L479.23,165.14 L479.40,164.69 L479.57,164.24 L479.74,163.78 L479.91,163.33 L480.08,162.88 L480.25,162.43 L480.42,161.98 L480.59,161.54 L480.76,161.09 L480.93,160.64 L481.10,160.19 L481.27,159.75 L481.44,159.30 L481.61,158.86 L481.79,158.42 L481.96,157.97 L482.13,157.53 L482.30,157.09 L482.47,156.65 L482.64,156.21 L482.81,155.77 L482.98,155.32 L483.15,154.88 L483.32,154.44 L483.49,154.00 L483.66,153.56 L483.83,153.12 L483.99,152.69 L484.16,152.25 L484.33,151.81 L484.49,151.37 L484.66,150.93 L484.82,150.49 L484.99,150.05 L485.15,149.61 L485.31,149.17 L485.47,148.73 L485.63,148.29 L485.79,147.85 L485.95,147.41 L486.11,146.97 L486.27,146.52 L486.42,146.08 L486.58,145.64 L486.73,145.20 L486.88,144.75 L487.03,144.31 L487.18,143.86 L487.33,143.42 L487.48,142.97 L487.62,142.53 L487.77,142.08 L487.91,141.63 L488.05,141.18 L488.19,140.73 L488.33,140.28 L488.46,139.83 L488.60,139.38 L488.73,138.93 L488.86,138.47 L488.99,138.02 L489.12,137.56 L489.24,137.10 L489.37,136.64 L489.49,136.18 L489.61,135.72 L489.73,135.26 L489.84,134.80 L489.96,134.33 L490.07,133.87 L490.18,133.40 L490.29,132.93 L490.40,132.46 L490.50,131.99 L490.61,131.52 L490.71,131.05 L490.82,130.58 L490.92,130.10 L491.02,129.63 L491.13,129.16 L491.23,128.68 L491.33,128.21 L491.43,127.73 L491.53,127.26 L491.64,126.78 L491.74,126.30 L491.84,125.83 L491.95,125.35 L492.05,124.88 L492.16,124.40 L492.26,123.93 L492.37,123.45 L492.48,122.97 L492.59,122.50 L492.71,122.03 L492.82,121.55 L492.94,121.08 L493.06,120.61 L493.18,120.13 L493.30,119.66 L493.43,119.19 L493.56,118.72 L493.69,118.25 L493.83,117.78 L493.96,117.32 L494.10,116.85 L494.25,116.39 L494.40,115.92 L494.55,115.46 L494.70,115.00 L494.86,114.54 L495.03,114.08 L495.19,113.63 L495.37,113.17 L495.54,112.72 L495.72,112.27 L495.91,111.82 L496.10,111.37 L496.30,110.93 L496.50,110.48 L496.70,110.04 L496.91,109.60 L497.13,109.16 L497.35,108.73 L497.58,108.29 L497.82,107.86 L498.06,107.44 L498.31,107.01 L498.56,106.59 L498.82,106.17 L499.09,105.75 L499.36,105.34 L499.64,104.94 L499.92,104.56 L500.22,104.19 L500.52,103.83 L500.82,103.49 L501.13,103.18 L501.45,102.88 L501.77,102.62 L502.10,102.38 L502.43,102.18 L502.77,102.00 L503.11,101.86 L503.46,101.77 L503.82,101.71 L504.18,101.69 L504.55,101.72 L504.92,101.79 L505.29,101.89 L505.66,102.04 L506.04,102.22 L506.41,102.43 L506.78,102.68 L507.15,102.95 L507.51,103.25 L507.87,103.57 L508.21,103.92 L508.56,104.28 L508.89,104.67 L509.21,105.06 L509.52,105.47 L509.82,105.90 L510.10,106.33 L510.37,106.76 L510.62,107.21 L510.86,107.66 L511.09,108.11 L511.31,108.57 L511.52,109.03 L511.72,109.49 L511.92,109.96 L512.11,110.43 L512.29,110.90 L512.48,111.36 L512.66,111.83 L512.84,112.30 L513.02,112.77 L513.20,113.23 L513.38,113.69 L513.56,114.15 L513.74,114.61 L513.93,115.06 L514.11,115.52 L514.30,115.97 L514.49,116.42 L514.68,116.87 L514.87,117.31 L515.06,117.76 L515.25,118.20 L515.44,118.64 L515.63,119.08 L515.83,119.52 L516.02,119.96 L516.22,120.39 L516.41,120.83 L516.61,121.26 L516.81,121.69 L517.00,122.12 L517.20,122.55 L517.40,122.98 L517.60,123.41 L517.80,123.84 L518.00,124.27 L518.21,124.69 L518.41,125.12 L518.61,125.54 L518.81,125.97 L519.02,126.39 L519.22,126.81 L519.42,127.23 L519.63,127.66 L519.83,128.08 L520.04,128.50 L520.25,128.92 L520.45,129.34 L520.66,129.76 L520.86,130.18 L521.07,130.61 L521.28,131.03 L521.48,131.45 L521.69,131.87 L521.90,132.29 L522.11,132.71 L522.31,133.14 L522.52,133.56 L522.73,133.98 L522.93,134.41 L523.14,134.83 L523.35,135.26 L523.56,135.68 L523.76,136.11 L523.97,136.53 L524.18,136.96 L524.38,137.39 L524.59,137.82 L524.80,138.25 L525.00,138.68 L525.21,139.12 L525.42,139.55 L525.62,139.99 L525.83,140.42 L526.03,140.86 L526.24,141.29 L526.45,141.73 L526.65,142.17 L526.86,142.61 L527.07,143.04 L527.28,143.48 L527.48,143.92 L527.69,144.36 L527.90,144.80 L528.11,145.24 L528.32,145.68 L528.53,146.11 L528.75,146.55 L528.96,146.99 L529.17,147.43 L529.39,147.86 L529.61,148.30 L529.82,148.74 L530.04,149.17 L530.26,149.60 L530.48,150.04 L530.70,150.47 L530.93,150.90 L531.15,151.33 L531.38,151.76 L531.61,152.19 L531.84,152.62 L532.07,153.04 L532.30,153.47 L532.53,153.89 L532.77,154.31 L533.01,154.73 L533.25,155.15 L533.49,155.56 L533.74,155.98 L533.98,156.39 L534.23,156.80 L534.48,157.21 L534.73,157.61 L534.99,158.01 L535.25,158.42 L535.51,158.82 L535.77,159.21 L536.03,159.61 L536.30,160.00 L536.57,160.39 L536.84,160.77 L537.12,161.16 L537.40,161.54 L537.68,161.92 L537.96,162.29 L538.25,162.66 L538.54,163.03 L538.83,163.40 L539.13,163.76 L539.43,164.12 L539.73,164.47 L540.04,164.82 L540.35,165.17 L540.66,165.52 L540.98,165.86 L541.30,166.20 L541.62,166.53 L541.95,166.86 L542.28,167.18 L542.61,167.51 L542.95,167.82 L543.30,168.14 L543.64,168.44 L543.99,168.75 L544.35,169.05 L544.70,169.35 L545.07,169.64 L545.43,169.92 L545.80,170.20 L546.18,170.48 L546.56,170.75 L546.94,171.02 L547.33,171.28 L547.72,171.54 L548.12,171.79 L548.52,172.04 L548.93,172.28 L549.34,172.52 L549.75,172.75 L550.17,172.98 L550.60,173.20 L551.02,173.42 L551.45,173.63 L551.88,173.84 L552.32,174.04 L552.76,174.24 L553.20,174.43 L553.65,174.62 L554.10,174.80 L554.55,174.98 L555.00,175.16 L555.46,175.33 L555.92,175.49 L556.38,175.65 L556.85,175.81 L557.31,175.96 L557.78,176.11 L558.25,176.25 L558.73,176.39 L559.20,176.52 L559.67,176.65 L560.15,176.78 L560.63,176.90 L561.11,177.02 L561.59,177.13 L562.07,177.24 L562.56,177.34 L563.04,177.44 L563.52,177.54 L564.01,177.63 L564.49,177.71 L564.98,177.80 L565.47,177.88 L565.95,177.95 L566.44,178.02 L566.93,178.09 L567.41,178.15 L567.90,178.21 L568.38,178.27 L568.87,178.32 L569.35,178.37 L569.83,178.41 L570.32,178.45 L570.80,178.49 L571.28,178.52 L571.76,178.55 L572.25,178.58 L572.73,178.60 L573.21,178.62 L573.69,178.63 L574.17,178.64 L574.65,178.65 L575.12,178.66 L575.60,178.66 L576.08,178.66 L576.56,178.65 L577.03,178.64 L577.51,178.63 L577.98,178.61 L578.46,178.59 L578.93,178.57 L579.41,178.55 L579.88,178.52 L580.35,178.49 L580.83,178.45 L581.30,178.41 L581.77,178.37 L582.24,178.33 L582.71,178.28 L583.18,178.23 L583.65,178.18 L584.12,178.12 L584.59,178.07 L585.06,178.01 L585.53,177.94 L586.00,177.87 L586.47,177.80 L586.93,177.73 L587.40,177.66 L587.86,177.58 L588.33,177.50 L588.80,177.42 L589.26,177.33 L589.72,177.24 L590.19,177.15 L590.65,177.06 L591.11,176.97 L591.58,176.87 L592.04,176.77 L592.50,176.67 L592.96,176.56 L593.42,176.45 L593.88,176.34 L594.34,176.23 L594.80,176.12 L595.26,176.00 L595.72,175.88 L596.18,175.76 L596.64,175.64 L597.10,175.52 L597.55,175.39 L598.01,175.26 L598.47,175.13 L598.92,175.00 L599.38,174.87 L599.83,174.73 L600.29,174.59 L600.74,174.45 L601.20,174.31 L601.65,174.17 L602.10,174.02 L602.56,173.88 L603.01,173.73 L603.46,173.58 L603.91,173.43 L604.36,173.27 L604.81,173.12 L605.26,172.96 L605.71,172.80 L606.16,172.65 L606.61,172.48 L607.06,172.32 L607.51,172.16 L607.96,171.99 L608.41,171.83 L608.86,171.66 L609.30,171.49 L609.75,171.32 L610.20,171.15 L610.64,170.98 L611.09,170.81 L611.53,170.63 L611.98,170.46 L612.42,170.28 L612.87,170.10 L613.31,169.92 L613.75,169.74 L614.20,169.56 L614.64,169.38 L615.08,169.19 L615.52,169.01 L615.96,168.82 L616.40,168.63 L616.84,168.44 L617.28,168.25 L617.72,168.06 L618.16,167.87 L618.60,167.67 L619.04,167.48 L619.48,167.28 L619.91,167.08 L620.35,166.88 L620.78,166.68 L621.22,166.48 L621.65,166.28 L622.09,166.07 L622.52,165.87 L622.95,165.66 L623.38,165.45 L623.82,165.24 L624.25,165.03 L624.68,164.82 L625.11,164.61 L625.54,164.39 L625.97,164.18 L626.39,163.96 L626.82,163.74 L627.25,163.53 L627.67,163.30 L628.10,163.08 L628.52,162.86 L628.95,162.64 L629.37,162.41 L629.79,162.18 L630.21,161.96 L630.63,161.73 L631.05,161.50 L631.47,161.26 L631.89,161.03 L632.31,160.80 L632.73,160.56 L633.15,160.32 L633.56,160.08 L633.98,159.85 L634.39,159.60 L634.80,159.36 L635.22,159.12 L635.63,158.87 L636.04,158.63 L636.45,158.38 L636.86,158.13 L637.27,157.88 L637.68,157.63 L638.08,157.38 L638.49,157.13 L638.90,156.87 L639.30,156.61 L639.70,156.36 L640.11,156.10 L640.51,155.84 L640.91,155.58 L641.31,155.31 L641.71,155.05 L642.11,154.79 L642.51,154.52 L642.90,154.25 L643.30,153.98 L643.69,153.71 L644.09,153.44 L644.48,153.17 L644.87,152.89 L645.26,152.62 L645.65,152.34 L646.04,152.06 L646.43,151.78 L646.81,151.50 L647.20,151.22 L647.58,150.93 L647.97,150.65 L648.35,150.36 L648.73,150.08 L649.11,149.79 L649.49,149.50 L649.87,149.20 L650.25,148.91 L650.62,148.62 L651.00,148.32 L651.37,148.03 L651.75,147.73 L652.12,147.43 L652.49,147.13 L652.86,146.82 L653.23,146.52 L653.60,146.22 L653.96,145.91 L654.33,145.60 L654.69,145.29 L655.06,144.98 L655.42,144.67 L655.78,144.36 L656.14,144.05 L656.50,143.73 L656.85,143.41 L657.21,143.10 L657.56,142.78 L657.92,142.45 L658.27,142.13 L658.62,141.81 L658.97,141.48 L659.32,141.16 L659.67,140.83 L660.01,140.50 L660.36,140.17 L660.70,139.84 L661.04,139.51 L661.38,139.17 L661.72,138.84 L662.06,138.50 L662.40,138.16 L662.73,137.82 L663.07,137.48 L663.40,137.14 L663.73,136.79 L664.06,136.45 L664.39,136.10 L664.72,135.75 L665.05,135.40 L665.37,135.05 L665.69,134.70 L666.02,134.35 L666.34,133.99 L666.66,133.64 L666.97,133.28 L667.29,132.92 L667.61,132.56 L667.92,132.20 L668.23,131.83 L668.54,131.47 L668.85,131.10 L669.16,130.74 L669.47,130.37 L669.77,130.00 L670.07,129.63 L670.38,129.25 L670.68,128.88 L670.97,128.50" fill="none" stroke="#F14040" stroke-width="2.20" stroke-linejoin="round" stroke-linecap="butt" clip-path="url(#cb)"/><path d="M391.43,230.10 L391.83,229.91 L392.23,229.72 L392.63,229.52 L393.02,229.31 L393.40,229.09 L393.79,228.87 L394.17,228.65 L394.55,228.42 L394.93,228.18 L395.31,227.94 L395.68,227.70 L396.05,227.45 L396.42,227.21 L396.79,226.95 L397.16,226.70 L397.53,226.45 L397.89,226.19 L398.26,225.93 L398.62,225.68 L398.98,225.42 L399.35,225.16 L399.71,224.91 L400.07,224.65 L400.44,224.40 L400.80,224.15 L401.16,223.90 L401.53,223.65 L401.89,223.40 L402.26,223.16 L402.63,222.93 L403.00,222.70 L403.37,222.47 L403.74,222.24 L404.11,222.02 L404.48,221.81 L404.86,221.59 L405.24,221.38 L405.61,221.18 L405.99,220.98 L406.37,220.78 L406.75,220.58 L407.14,220.39 L407.52,220.20 L407.91,220.01 L408.29,219.83 L408.68,219.64 L409.07,219.47 L409.46,219.29 L409.85,219.11 L410.24,218.94 L410.64,218.77 L411.03,218.60 L411.43,218.44 L411.83,218.27 L412.23,218.11 L412.63,217.95 L413.03,217.79 L413.44,217.63 L413.84,217.47 L414.25,217.31 L414.65,217.16 L415.06,217.00 L415.47,216.85 L415.88,216.70 L416.30,216.54 L416.71,216.39 L417.12,216.24 L417.54,216.09 L417.96,215.94 L418.37,215.79 L418.79,215.64 L419.21,215.49 L419.63,215.34 L420.05,215.19 L420.47,215.04 L420.89,214.89 L421.32,214.74 L421.74,214.59 L422.16,214.43 L422.58,214.28 L423.01,214.13 L423.43,213.98 L423.85,213.83 L424.28,213.67 L424.70,213.52 L425.12,213.36 L425.55,213.21 L425.97,213.05 L426.39,212.90 L426.82,212.74 L427.24,212.58 L427.66,212.42 L428.08,212.26 L428.50,212.09 L428.92,211.93 L429.34,211.76 L429.76,211.60 L430.17,211.43 L430.59,211.26 L431.00,211.09 L431.42,210.92 L431.83,210.74 L432.24,210.56 L432.65,210.39 L433.06,210.21 L433.47,210.02 L433.88,209.84 L434.28,209.65 L434.68,209.46 L435.09,209.27 L435.49,209.08 L435.88,208.88 L436.28,208.69 L436.68,208.49 L437.07,208.28 L437.46,208.08 L437.85,207.87 L438.23,207.66 L438.62,207.44 L439.00,207.23 L439.38,207.01 L439.76,206.78 L440.13,206.56 L440.50,206.33 L440.87,206.10 L441.24,205.86 L441.60,205.62 L441.97,205.38 L442.32,205.14 L442.68,204.89 L443.03,204.64 L443.38,204.38 L443.73,204.12 L444.07,203.86 L444.41,203.59 L444.75,203.32 L445.09,203.05 L445.42,202.77 L445.75,202.49 L446.07,202.20 L446.40,201.91 L446.72,201.62 L447.03,201.33 L447.35,201.03 L447.66,200.73 L447.97,200.43 L448.28,200.12 L448.58,199.81 L448.88,199.50 L449.18,199.19 L449.48,198.87 L449.77,198.55 L450.06,198.22 L450.35,197.90 L450.64,197.57 L450.92,197.24 L451.21,196.91 L451.49,196.57 L451.76,196.23 L452.04,195.89 L452.31,195.55 L452.58,195.21 L452.85,194.86 L453.12,194.51 L453.38,194.16 L453.65,193.81 L453.91,193.45 L454.17,193.09 L454.42,192.74 L454.68,192.38 L454.93,192.01 L455.18,191.65 L455.43,191.29 L455.68,190.92 L455.93,190.55 L456.17,190.18 L456.42,189.81 L456.66,189.44 L456.90,189.06 L457.14,188.69 L457.37,188.31 L457.61,187.94 L457.84,187.56 L458.07,187.18 L458.31,186.80 L458.54,186.42 L458.76,186.04 L458.99,185.66 L459.22,185.27 L459.44,184.89 L459.67,184.50 L459.89,184.12 L460.11,183.73 L460.33,183.35 L460.55,182.96 L460.77,182.57 L460.99,182.19 L461.20,181.80 L461.42,181.41 L461.63,181.02 L461.85,180.63 L462.06,180.24 L462.27,179.85 L462.48,179.46 L462.69,179.07 L462.90,178.68 L463.10,178.28 L463.31,177.89 L463.52,177.50 L463.72,177.10 L463.92,176.71 L464.13,176.31 L464.33,175.92 L464.53,175.52 L464.73,175.13 L464.93,174.73 L465.12,174.34 L465.32,173.94 L465.52,173.54 L465.71,173.14 L465.91,172.74 L466.10,172.35 L466.29,171.95 L466.48,171.55 L466.67,171.15 L466.86,170.75 L467.05,170.35 L467.24,169.95 L467.43,169.55 L467.61,169.15 L467.80,168.74 L467.98,168.34 L468.17,167.94 L468.35,167.54 L468.53,167.13 L468.72,166.73 L468.90,166.33 L469.08,165.92 L469.26,165.52 L469.44,165.12 L469.61,164.71 L469.79,164.31 L469.97,163.90 L470.14,163.50 L470.32,163.09 L470.49,162.69 L470.67,162.28 L470.84,161.87 L471.01,161.47 L471.18,161.06 L471.36,160.66 L471.53,160.25 L471.70,159.84 L471.87,159.43 L472.03,159.03 L472.20,158.62 L472.37,158.21 L472.54,157.80 L472.70,157.40 L472.87,156.99 L473.03,156.58 L473.20,156.17 L473.36,155.76 L473.52,155.35 L473.69,154.94 L473.85,154.54 L474.01,154.13 L474.17,153.72 L474.33,153.31 L474.49,152.90 L474.65,152.49 L474.81,152.08 L474.97,151.67 L475.13,151.26 L475.28,150.85 L475.44,150.44 L475.60,150.03 L475.75,149.62 L475.91,149.21 L476.07,148.80 L476.22,148.39 L476.37,147.98 L476.53,147.57 L476.68,147.16 L476.84,146.75 L476.99,146.34 L477.14,145.93 L477.29,145.52 L477.44,145.11 L477.60,144.70 L477.75,144.29 L477.90,143.88 L478.05,143.47 L478.20,143.06 L478.35,142.65 L478.50,142.24 L478.65,141.83 L478.80,141.43 L478.94,141.02 L479.09,140.61 L479.24,140.20 L479.39,139.79 L479.54,139.38 L479.69,138.97 L479.84,138.56 L479.99,138.15 L480.14,137.74 L480.30,137.33 L480.45,136.93 L480.60,136.52 L480.76,136.11 L480.91,135.70 L481.07,135.29 L481.23,134.88 L481.39,134.47 L481.55,134.07 L481.71,133.66 L481.87,133.25 L482.04,132.84 L482.20,132.43 L482.37,132.03 L482.54,131.62 L482.71,131.21 L482.89,130.80 L483.06,130.40 L483.24,129.99 L483.42,129.58 L483.61,129.17 L483.79,128.77 L483.98,128.36 L484.17,127.95 L484.36,127.55 L484.56,127.14 L484.76,126.73 L484.96,126.33 L485.16,125.92 L485.37,125.51 L485.58,125.11 L485.79,124.70 L486.01,124.30 L486.23,123.89 L486.45,123.48 L486.68,123.08 L486.91,122.67 L487.14,122.27 L487.38,121.86 L487.62,121.46 L487.87,121.05 L488.12,120.65 L488.37,120.24 L488.63,119.84 L488.89,119.43 L489.15,119.03 L489.42,118.64 L489.70,118.24 L489.98,117.85 L490.26,117.47 L490.54,117.09 L490.83,116.72 L491.13,116.36 L491.43,116.01 L491.73,115.67 L492.03,115.34 L492.34,115.02 L492.65,114.71 L492.97,114.42 L493.29,114.14 L493.62,113.88 L493.95,113.64 L494.28,113.41 L494.61,113.20 L494.95,113.00 L495.30,112.83 L495.64,112.68 L495.99,112.55 L496.35,112.44 L496.70,112.36 L497.07,112.29 L497.43,112.25 L497.80,112.24 L498.17,112.24 L498.54,112.26 L498.91,112.30 L499.28,112.36 L499.66,112.44 L500.03,112.54 L500.41,112.65 L500.79,112.78 L501.16,112.92 L501.54,113.08 L501.91,113.26 L502.29,113.45 L502.66,113.65 L503.03,113.86 L503.40,114.08 L503.77,114.32 L504.13,114.56 L504.49,114.82 L504.85,115.08 L505.20,115.35 L505.55,115.63 L505.90,115.91 L506.24,116.21 L506.57,116.50 L506.90,116.81 L507.23,117.11 L507.55,117.42 L507.86,117.74 L508.17,118.06 L508.47,118.38 L508.77,118.71 L509.07,119.04 L509.35,119.37 L509.64,119.70 L509.92,120.04 L510.19,120.39 L510.46,120.73 L510.73,121.08 L510.99,121.44 L511.25,121.79 L511.51,122.15 L511.76,122.51 L512.01,122.87 L512.25,123.24 L512.49,123.61 L512.73,123.98 L512.97,124.35 L513.20,124.73 L513.43,125.10 L513.66,125.48 L513.88,125.87 L514.10,126.25 L514.32,126.64 L514.54,127.02 L514.76,127.41 L514.97,127.80 L515.18,128.19 L515.39,128.59 L515.60,128.98 L515.81,129.38 L516.02,129.78 L516.23,130.17 L516.43,130.57 L516.63,130.97 L516.84,131.38 L517.04,131.78 L517.24,132.18 L517.45,132.58 L517.65,132.99 L517.85,133.39 L518.05,133.79 L518.25,134.20 L518.46,134.60 L518.66,135.01 L518.86,135.41 L519.07,135.82 L519.27,136.22 L519.48,136.63 L519.69,137.03 L519.89,137.44 L520.10,137.84 L520.31,138.24 L520.52,138.65 L520.73,139.05 L520.94,139.45 L521.15,139.85 L521.37,140.26 L521.58,140.66 L521.79,141.06 L522.01,141.46 L522.23,141.85 L522.45,142.25 L522.67,142.65 L522.89,143.05 L523.11,143.44 L523.33,143.83 L523.55,144.23 L523.78,144.62 L524.01,145.01 L524.24,145.40 L524.46,145.79 L524.70,146.18 L524.93,146.56 L525.16,146.95 L525.40,147.33 L525.63,147.71 L525.87,148.09 L526.11,148.47 L526.36,148.85 L526.60,149.23 L526.84,149.60 L527.09,149.97 L527.34,150.34 L527.59,150.71 L527.84,151.08 L528.10,151.44 L528.35,151.81 L528.61,152.17 L528.87,152.53 L529.13,152.88 L529.40,153.24 L529.66,153.59 L529.93,153.94 L530.20,154.29 L530.48,154.63 L530.75,154.97 L531.03,155.32 L531.31,155.65 L531.59,155.99 L531.87,156.32 L532.16,156.65 L532.45,156.98 L532.74,157.31 L533.03,157.63 L533.32,157.95 L533.62,158.26 L533.92,158.58 L534.23,158.89 L534.53,159.20 L534.84,159.50 L535.15,159.80 L535.47,160.10 L535.78,160.39 L536.10,160.69 L536.42,160.98 L536.75,161.26 L537.08,161.54 L537.41,161.82 L537.74,162.10 L538.08,162.37 L538.42,162.63 L538.76,162.90 L539.11,163.16 L539.45,163.42 L539.81,163.67 L540.16,163.92 L540.52,164.16 L540.88,164.41 L541.24,164.64 L541.61,164.88 L541.98,165.11 L542.36,165.33 L542.73,165.55 L543.11,165.77 L543.50,165.98 L543.88,166.19 L544.27,166.40 L544.66,166.60 L545.06,166.80 L545.46,167.00 L545.85,167.19 L546.26,167.37 L546.66,167.56 L547.07,167.74 L547.48,167.91 L547.89,168.09 L548.30,168.25 L548.71,168.42 L549.13,168.58 L549.55,168.74 L549.97,168.90 L550.39,169.05 L550.82,169.20 L551.24,169.34 L551.67,169.48 L552.10,169.62 L552.53,169.76 L552.96,169.89 L553.39,170.02 L553.82,170.14 L554.26,170.26 L554.69,170.38 L555.13,170.50 L555.56,170.61 L556.00,170.72 L556.44,170.83 L556.88,170.93 L557.31,171.03 L557.75,171.13 L558.19,171.23 L558.63,171.32 L559.07,171.41 L559.51,171.49 L559.95,171.58 L560.39,171.66 L560.83,171.74 L561.27,171.81 L561.71,171.89 L562.15,171.96 L562.59,172.02 L563.03,172.09 L563.47,172.15 L563.91,172.21 L564.35,172.27 L564.79,172.32 L565.23,172.37 L565.66,172.42 L566.10,172.47 L566.54,172.51 L566.98,172.55 L567.42,172.59 L567.85,172.63 L568.29,172.66 L568.73,172.69 L569.17,172.72 L569.61,172.75 L570.04,172.77 L570.48,172.79 L570.92,172.81 L571.35,172.82 L571.79,172.84 L572.23,172.85 L572.66,172.86 L573.10,172.86 L573.53,172.86 L573.97,172.87 L574.40,172.86 L574.84,172.86 L575.27,172.85 L575.71,172.84 L576.14,172.83 L576.58,172.82 L577.01,172.80 L577.44,172.79 L577.88,172.76 L578.31,172.74 L578.74,172.72 L579.18,172.69 L579.61,172.66 L580.04,172.63 L580.47,172.59 L580.91,172.55 L581.34,172.51 L581.77,172.47 L582.20,172.43 L582.63,172.38 L583.06,172.33 L583.49,172.28 L583.92,172.23 L584.35,172.18 L584.78,172.12 L585.21,172.06 L585.64,172.00 L586.07,171.93 L586.50,171.87 L586.92,171.80 L587.35,171.73 L587.78,171.66 L588.21,171.58 L588.63,171.50 L589.06,171.43 L589.48,171.34 L589.91,171.26 L590.34,171.18 L590.76,171.09 L591.19,171.00 L591.61,170.91 L592.03,170.81 L592.46,170.72 L592.88,170.62 L593.30,170.52 L593.73,170.42 L594.15,170.31 L594.57,170.21 L594.99,170.10 L595.41,169.99 L595.83,169.88 L596.25,169.77 L596.67,169.65 L597.09,169.53 L597.51,169.41 L597.93,169.29 L598.35,169.17 L598.77,169.04 L599.19,168.92 L599.60,168.79 L600.02,168.66 L600.44,168.52 L600.85,168.39 L601.27,168.25 L601.68,168.11 L602.10,167.97 L602.51,167.83 L602.92,167.69 L603.34,167.54 L603.75,167.39 L604.16,167.24 L604.58,167.09 L604.99,166.94 L605.40,166.79 L605.81,166.63 L606.22,166.47 L606.63,166.31 L607.04,166.15 L607.45,165.99 L607.85,165.82 L608.26,165.65 L608.67,165.49 L609.08,165.32 L609.48,165.14 L609.89,164.97 L610.29,164.79 L610.70,164.62 L611.10,164.44 L611.51,164.26 L611.91,164.08 L612.31,163.89 L612.71,163.71 L613.12,163.52 L613.52,163.34 L613.92,163.15 L614.32,162.95 L614.72,162.76 L615.12,162.57 L615.52,162.37 L615.91,162.17 L616.31,161.98 L616.71,161.77 L617.10,161.57 L617.50,161.37 L617.89,161.16 L618.29,160.96 L618.68,160.75 L619.08,160.54 L619.47,160.33 L619.86,160.12 L620.25,159.91 L620.64,159.69 L621.03,159.47 L621.42,159.26 L621.81,159.04 L622.20,158.82 L622.59,158.60 L622.98,158.37 L623.36,158.15 L623.75,157.92 L624.14,157.69 L624.52,157.47 L624.90,157.24 L625.29,157.01 L625.67,156.77 L626.05,156.54 L626.44,156.30 L626.82,156.07 L627.20,155.83 L627.58,155.59 L627.96,155.35 L628.33,155.11 L628.71,154.87 L629.09,154.62 L629.47,154.38 L629.84,154.13 L630.22,153.89 L630.59,153.64 L630.96,153.39 L631.34,153.14 L631.71,152.89 L632.08,152.63 L632.45,152.38 L632.82,152.12 L633.19,151.87 L633.56,151.61 L633.93,151.35 L634.30,151.09 L634.66,150.83 L635.03,150.57 L635.39,150.31 L635.76,150.04 L636.12,149.78 L636.49,149.51 L636.85,149.24 L637.21,148.98 L637.57,148.71 L637.93,148.44 L638.29,148.17 L638.65,147.89 L639.00,147.62 L639.36,147.35 L639.72,147.07 L640.07,146.80 L640.43,146.52 L640.78,146.24 L641.13,145.96 L641.49,145.69 L641.84,145.41 L642.19,145.12 L642.54,144.84 L642.89,144.56 L643.24,144.28 L643.58,143.99 L643.93,143.71 L644.28,143.42 L644.62,143.13 L644.96,142.85 L645.31,142.56 L645.65,142.27 L645.99,141.98 L646.33,141.69 L646.67,141.39 L647.01,141.10 L647.35,140.81 L647.69,140.52 L648.02,140.22 L648.36,139.93 L648.69,139.63 L649.03,139.33 L649.36,139.04 L649.69,138.74 L650.03,138.44 L650.36,138.14 L650.69,137.84 L651.01,137.54 L651.34,137.24 L651.67,136.94 L651.99,136.63 L652.32,136.33 L652.64,136.03 L652.97,135.72 L653.29,135.42 L653.61,135.11 L653.93,134.81 L654.25,134.50 L654.57,134.19 L654.89,133.88 L655.20,133.58 L655.52,133.27 L655.84,132.96 L656.15,132.65 L656.46,132.34 L656.77,132.03 L657.09,131.72 L657.40,131.41 L657.70,131.09 L658.01,130.78 L658.32,130.47 L658.63,130.16 L658.93,129.84 L659.24,129.53 L659.54,129.21 L659.84,128.90 L660.14,128.58 L660.44,128.27 L660.74,127.95 L661.04,127.64 L661.34,127.32 L661.64,127.00 L661.93,126.69 L662.22,126.37 L662.52,126.05 L662.81,125.73 L663.10,125.41 L663.39,125.10 L663.68,124.78 L663.97,124.46 L664.26,124.14 L664.54,123.82 L664.83,123.50 L665.11,123.18 L665.39,122.86 L665.68,122.54 L665.96,122.22 L666.24,121.90 L666.52,121.58 L666.79,121.26 L667.07,120.93 L667.35,120.61 L667.62,120.29 L667.89,119.97 L668.17,119.65 L668.44,119.33 L668.71,119.00 L668.98,118.68 L669.24,118.36 L669.51,118.04 L669.78,117.72 L670.04,117.39 L670.30,117.07 L670.57,116.75 L670.83,116.43" fill="none" stroke="#1A6FDF" stroke-width="2.20" stroke-linejoin="round" stroke-linecap="butt" clip-path="url(#cb)"/><path d="M391.32,229.92 L391.45,229.47 L391.60,229.04 L391.76,228.62 L391.94,228.23 L392.13,227.86 L392.33,227.51 L392.55,227.17 L392.78,226.85 L393.02,226.54 L393.27,226.25 L393.53,225.98 L393.81,225.71 L394.09,225.46 L394.38,225.23 L394.68,225.00 L394.99,224.78 L395.31,224.57 L395.63,224.37 L395.96,224.18 L396.29,223.99 L396.63,223.82 L396.98,223.64 L397.33,223.47 L397.68,223.31 L398.03,223.15 L398.39,222.99 L398.75,222.83 L399.11,222.68 L399.47,222.52 L399.83,222.36 L400.19,222.21 L400.55,222.05 L400.90,221.88 L401.26,221.71 L401.61,221.54 L401.96,221.37 L402.30,221.18 L402.64,220.99 L402.97,220.79 L403.30,220.59 L403.62,220.37 L403.94,220.15 L404.25,219.91 L404.55,219.66 L404.84,219.41 L405.12,219.14 L405.40,218.86 L405.67,218.56 L405.93,218.26 L406.19,217.96 L406.44,217.64 L406.68,217.31 L406.92,216.98 L407.15,216.64 L407.38,216.29 L407.60,215.93 L407.82,215.57 L408.04,215.21 L408.25,214.84 L408.46,214.46 L408.66,214.08 L408.87,213.70 L409.07,213.31 L409.26,212.92 L409.46,212.53 L409.65,212.14 L409.84,211.75 L410.04,211.35 L410.23,210.95 L410.42,210.56 L410.61,210.16 L410.80,209.77 L410.99,209.38 L411.18,208.99 L411.37,208.60 L411.57,208.21 L411.76,207.83 L411.96,207.45 L412.16,207.08 L412.36,206.71 L412.57,206.35 L412.78,205.99 L412.99,205.64 L413.20,205.29 L413.42,204.95 L413.65,204.62 L413.88,204.30 L414.11,203.98 L414.35,203.68 L414.59,203.38 L414.85,203.09 L415.10,202.81 L415.37,202.55 L415.64,202.29 L415.91,202.05 L416.20,201.82 L416.49,201.60 L416.79,201.39 L417.09,201.19 L417.40,201.00 L417.72,200.83 L418.04,200.66 L418.37,200.51 L418.70,200.36 L419.04,200.23 L419.39,200.11 L419.74,200.00 L420.09,199.89 L420.45,199.80 L420.82,199.72 L421.19,199.65 L421.56,199.59 L421.93,199.54 L422.31,199.49 L422.70,199.46 L423.09,199.44 L423.48,199.42 L423.87,199.42 L424.27,199.42 L424.67,199.42 L425.07,199.43 L425.47,199.45 L425.88,199.47 L426.29,199.49 L426.69,199.52 L427.10,199.54 L427.51,199.57 L427.93,199.59 L428.34,199.62 L428.75,199.64 L429.16,199.66 L429.57,199.67 L429.98,199.69 L430.39,199.69 L430.80,199.69 L431.21,199.68 L431.61,199.67 L432.02,199.64 L432.42,199.61 L432.82,199.58 L433.22,199.53 L433.62,199.48 L434.02,199.42 L434.42,199.35 L434.81,199.27 L435.21,199.18 L435.60,199.09 L435.99,198.98 L436.38,198.87 L436.76,198.76 L437.15,198.63 L437.53,198.50 L437.92,198.36 L438.30,198.21 L438.68,198.05 L439.05,197.89 L439.43,197.73 L439.80,197.55 L440.17,197.37 L440.54,197.19 L440.91,197.00 L441.27,196.81 L441.63,196.61 L441.99,196.41 L442.35,196.20 L442.71,195.99 L443.06,195.77 L443.41,195.55 L443.76,195.33 L444.11,195.11 L444.45,194.88 L444.79,194.65 L445.13,194.42 L445.46,194.18 L445.79,193.95 L446.12,193.71 L446.45,193.47 L446.77,193.23 L447.09,192.98 L447.41,192.74 L447.73,192.49 L448.04,192.24 L448.36,191.98 L448.67,191.73 L448.97,191.47 L449.28,191.21 L449.58,190.95 L449.88,190.69 L450.18,190.43 L450.48,190.16 L450.78,189.89 L451.07,189.62 L451.36,189.35 L451.65,189.08 L451.94,188.81 L452.22,188.53 L452.51,188.25 L452.79,187.97 L453.07,187.69 L453.35,187.40 L453.63,187.12 L453.91,186.83 L454.18,186.54 L454.46,186.25 L454.73,185.96 L455.00,185.66 L455.27,185.37 L455.54,185.07 L455.81,184.77 L456.08,184.47 L456.34,184.17 L456.61,183.87 L456.87,183.56 L457.14,183.25 L457.40,182.95 L457.66,182.64 L457.92,182.33 L458.18,182.01 L458.44,181.70 L458.70,181.38 L458.96,181.07 L459.22,180.75 L459.48,180.43 L459.74,180.10 L459.99,179.78 L460.25,179.46 L460.51,179.13 L460.76,178.81 L461.02,178.48 L461.28,178.15 L461.53,177.82 L461.79,177.50 L462.05,177.17 L462.31,176.84 L462.57,176.52 L462.84,176.20 L463.10,175.88 L463.37,175.56 L463.64,175.24 L463.91,174.92 L464.18,174.61 L464.46,174.30 L464.74,174.00 L465.02,173.70 L465.30,173.40 L465.59,173.11 L465.88,172.82 L466.18,172.54 L466.48,172.26 L466.78,171.99 L467.09,171.72 L467.40,171.46 L467.72,171.21 L468.04,170.96 L468.37,170.72 L468.70,170.49 L469.04,170.26 L469.38,170.04 L469.73,169.83 L470.08,169.63 L470.44,169.44 L470.81,169.26 L471.17,169.08 L471.54,168.91 L471.92,168.76 L472.30,168.61 L472.68,168.47 L473.07,168.34 L473.45,168.21 L473.84,168.10 L474.23,168.00 L474.63,167.91 L475.02,167.82 L475.42,167.75 L475.82,167.69 L476.21,167.64 L476.61,167.59 L477.01,167.56 L477.41,167.54 L477.80,167.53 L478.20,167.53 L478.59,167.54 L478.98,167.56 L479.38,167.60 L479.76,167.64 L480.15,167.70 L480.53,167.76 L480.91,167.84 L481.29,167.93 L481.67,168.04 L482.04,168.15 L482.40,168.28 L482.76,168.42 L483.12,168.56 L483.48,168.72 L483.83,168.89 L484.18,169.07 L484.53,169.26 L484.87,169.45 L485.21,169.65 L485.55,169.86 L485.89,170.08 L486.22,170.30 L486.56,170.53 L486.89,170.76 L487.22,171.00 L487.55,171.24 L487.88,171.48 L488.21,171.73 L488.54,171.98 L488.87,172.23 L489.20,172.48 L489.53,172.74 L489.86,172.99 L490.19,173.25 L490.52,173.50 L490.85,173.75 L491.18,174.00 L491.52,174.25 L491.85,174.50 L492.19,174.74 L492.53,174.99 L492.87,175.23 L493.21,175.47 L493.55,175.71 L493.89,175.95 L494.23,176.19 L494.58,176.42 L494.92,176.65 L495.27,176.89 L495.61,177.12 L495.96,177.34 L496.31,177.57 L496.66,177.80 L497.01,178.02 L497.36,178.24 L497.71,178.46 L498.07,178.68 L498.42,178.89 L498.78,179.11 L499.13,179.32 L499.49,179.53 L499.85,179.74 L500.21,179.95 L500.57,180.15 L500.93,180.35 L501.29,180.55 L501.65,180.75 L502.01,180.95 L502.37,181.14 L502.74,181.33 L503.10,181.52 L503.47,181.71 L503.84,181.90 L504.20,182.08 L504.57,182.26 L504.94,182.44 L505.31,182.62 L505.68,182.79 L506.05,182.97 L506.42,183.14 L506.79,183.31 L507.17,183.47 L507.54,183.63 L507.91,183.80 L508.29,183.95 L508.66,184.11 L509.04,184.26 L509.42,184.42 L509.79,184.56 L510.17,184.71 L510.55,184.85 L510.93,185.00 L511.31,185.14 L511.69,185.27 L512.07,185.41 L512.45,185.54 L512.83,185.67 L513.21,185.79 L513.60,185.92 L513.98,186.04 L514.36,186.16 L514.75,186.28 L515.13,186.39 L515.52,186.50 L515.90,186.61 L516.29,186.72 L516.68,186.83 L517.06,186.93 L517.45,187.03 L517.84,187.13 L518.23,187.22 L518.62,187.32 L519.01,187.41 L519.40,187.50 L519.79,187.59 L520.18,187.67 L520.57,187.75 L520.96,187.83 L521.35,187.91 L521.75,187.99 L522.14,188.06 L522.53,188.14 L522.93,188.20 L523.32,188.27 L523.71,188.34 L524.11,188.40 L524.50,188.46 L524.90,188.52 L525.30,188.58 L525.69,188.63 L526.09,188.69 L526.49,188.74 L526.88,188.79 L527.28,188.83 L527.68,188.88 L528.08,188.92 L528.47,188.96 L528.87,189.00 L529.27,189.04 L529.67,189.07 L530.07,189.11 L530.47,189.14 L530.87,189.17 L531.27,189.20 L531.67,189.22 L532.07,189.24 L532.47,189.27 L532.87,189.29 L533.27,189.30 L533.68,189.32 L534.08,189.34 L534.48,189.35 L534.88,189.36 L535.28,189.37 L535.69,189.38 L536.09,189.38 L536.49,189.38 L536.90,189.39 L537.30,189.39 L537.70,189.39 L538.11,189.38 L538.51,189.38 L538.91,189.37 L539.32,189.36 L539.72,189.35 L540.13,189.34 L540.53,189.33 L540.93,189.31 L541.34,189.30 L541.74,189.28 L542.15,189.26 L542.55,189.24 L542.96,189.22 L543.36,189.19 L543.77,189.17 L544.17,189.14 L544.58,189.11 L544.98,189.08 L545.39,189.05 L545.79,189.01 L546.20,188.98 L546.60,188.94 L547.01,188.90 L547.41,188.86 L547.82,188.82 L548.22,188.78 L548.63,188.74 L549.03,188.69 L549.44,188.65 L549.84,188.60 L550.25,188.55 L550.65,188.50 L551.06,188.45 L551.46,188.39 L551.87,188.34 L552.27,188.28 L552.68,188.23 L553.08,188.17 L553.49,188.11 L553.89,188.05 L554.30,187.99 L554.70,187.92 L555.10,187.86 L555.51,187.79 L555.91,187.72 L556.31,187.66 L556.72,187.59 L557.12,187.52 L557.52,187.44 L557.93,187.37 L558.33,187.30 L558.73,187.22 L559.14,187.15 L559.54,187.07 L559.94,186.99 L560.34,186.91 L560.74,186.83 L561.15,186.75 L561.55,186.66 L561.95,186.58 L562.35,186.50 L562.75,186.41 L563.15,186.32 L563.55,186.24 L563.95,186.15 L564.35,186.06 L564.75,185.97 L565.15,185.87 L565.55,185.78 L565.95,185.69 L566.35,185.59 L566.74,185.50 L567.14,185.40 L567.54,185.30 L567.94,185.21 L568.33,185.11 L568.73,185.01 L569.13,184.91 L569.52,184.81 L569.92,184.70 L570.31,184.60 L570.71,184.50 L571.10,184.39 L571.50,184.29 L571.89,184.18 L572.28,184.07 L572.68,183.96 L573.07,183.85 L573.46,183.74 L573.85,183.63 L574.25,183.52 L574.64,183.41 L575.03,183.30 L575.42,183.18 L575.81,183.07 L576.20,182.95 L576.59,182.84 L576.98,182.72 L577.37,182.60 L577.76,182.48 L578.15,182.36 L578.54,182.24 L578.92,182.12 L579.31,182.00 L579.70,181.87 L580.08,181.75 L580.47,181.63 L580.86,181.50 L581.24,181.37 L581.63,181.25 L582.01,181.12 L582.40,180.99 L582.78,180.86 L583.17,180.73 L583.55,180.60 L583.94,180.47 L584.32,180.34 L584.70,180.20 L585.09,180.07 L585.47,179.93 L585.85,179.80 L586.23,179.66 L586.61,179.52 L586.99,179.39 L587.37,179.25 L587.75,179.11 L588.13,178.97 L588.51,178.83 L588.89,178.68 L589.27,178.54 L589.65,178.40 L590.03,178.25 L590.41,178.11 L590.78,177.96 L591.16,177.81 L591.54,177.67 L591.92,177.52 L592.29,177.37 L592.67,177.22 L593.04,177.07 L593.42,176.92 L593.79,176.77 L594.17,176.61 L594.54,176.46 L594.92,176.31 L595.29,176.15 L595.66,175.99 L596.04,175.84 L596.41,175.68 L596.78,175.52 L597.15,175.36 L597.52,175.20 L597.89,175.04 L598.27,174.88 L598.64,174.72 L599.01,174.56 L599.38,174.40 L599.74,174.23 L600.11,174.07 L600.48,173.90 L600.85,173.73 L601.22,173.57 L601.59,173.40 L601.95,173.23 L602.32,173.06 L602.69,172.89 L603.05,172.72 L603.42,172.55 L603.78,172.38 L604.15,172.21 L604.51,172.03 L604.88,171.86 L605.24,171.68 L605.61,171.51 L605.97,171.33 L606.33,171.15 L606.70,170.98 L607.06,170.80 L607.42,170.62 L607.78,170.44 L608.14,170.26 L608.51,170.08 L608.87,169.89 L609.23,169.71 L609.59,169.53 L609.95,169.34 L610.30,169.16 L610.66,168.97 L611.02,168.79 L611.38,168.60 L611.74,168.41 L612.10,168.22 L612.45,168.04 L612.81,167.85 L613.17,167.65 L613.52,167.46 L613.88,167.27 L614.23,167.08 L614.59,166.89 L614.94,166.69 L615.30,166.50 L615.65,166.30 L616.00,166.11 L616.36,165.91 L616.71,165.71 L617.06,165.51 L617.41,165.32 L617.76,165.12 L618.12,164.92 L618.47,164.71 L618.82,164.51 L619.17,164.31 L619.52,164.11 L619.87,163.90 L620.21,163.70 L620.56,163.50 L620.91,163.29 L621.26,163.08 L621.61,162.88 L621.95,162.67 L622.30,162.46 L622.64,162.25 L622.99,162.04 L623.34,161.83 L623.68,161.62 L624.02,161.41 L624.37,161.20 L624.71,160.98 L625.05,160.77 L625.40,160.55 L625.74,160.34 L626.08,160.12 L626.42,159.91 L626.76,159.69 L627.11,159.47 L627.45,159.25 L627.79,159.03 L628.12,158.81 L628.46,158.59 L628.80,158.37 L629.14,158.15 L629.48,157.93 L629.82,157.71 L630.15,157.48 L630.49,157.26 L630.83,157.03 L631.16,156.81 L631.50,156.58 L631.83,156.35 L632.16,156.12 L632.50,155.90 L632.83,155.67 L633.17,155.44 L633.50,155.21 L633.83,154.98 L634.16,154.74 L634.49,154.51 L634.82,154.28 L635.15,154.04 L635.48,153.81 L635.81,153.57 L636.14,153.34 L636.47,153.10 L636.80,152.87 L637.13,152.63 L637.45,152.39 L637.78,152.15 L638.11,151.91 L638.43,151.67 L638.76,151.43 L639.08,151.19 L639.41,150.95 L639.73,150.70 L640.05,150.46 L640.38,150.21 L640.70,149.97 L641.02,149.72 L641.34,149.48 L641.66,149.23 L641.99,148.98 L642.31,148.73 L642.63,148.49 L642.94,148.24 L643.26,147.99 L643.58,147.74 L643.90,147.48 L644.22,147.23 L644.53,146.98 L644.85,146.73 L645.17,146.47 L645.48,146.22 L645.80,145.96 L646.11,145.71 L646.42,145.45 L646.74,145.19 L647.05,144.94 L647.36,144.68 L647.67,144.42 L647.99,144.16 L648.30,143.90 L648.61,143.64 L648.92,143.38 L649.23,143.11 L649.54,142.85 L649.84,142.59 L650.15,142.32 L650.46,142.06 L650.77,141.79 L651.07,141.53 L651.38,141.26 L651.68,140.99 L651.99,140.72 L652.29,140.46 L652.60,140.19 L652.90,139.92 L653.20,139.65 L653.50,139.38 L653.81,139.10 L654.11,138.83 L654.41,138.56 L654.71,138.28 L655.01,138.01 L655.31,137.74 L655.61,137.46 L655.90,137.18 L656.20,136.91 L656.50,136.63 L656.79,136.35 L657.09,136.07 L657.39,135.79 L657.68,135.52 L657.97,135.23 L658.27,134.95 L658.56,134.67 L658.85,134.39 L659.15,134.11 L659.44,133.82 L659.73,133.54 L660.02,133.25 L660.31,132.97 L660.60,132.68 L660.89,132.40 L661.17,132.11 L661.46,131.82 L661.75,131.53 L662.04,131.25 L662.32,130.96 L662.61,130.67 L662.89,130.37 L663.18,130.08 L663.46,129.79 L663.74,129.50 L664.03,129.21 L664.31,128.91 L664.59,128.62 L664.87,128.32 L665.15,128.03 L665.43,127.73 L665.71,127.43 L665.99,127.14 L666.27,126.84 L666.54,126.54 L666.82,126.24 L667.10,125.94 L667.37,125.64 L667.65,125.34 L667.92,125.04 L668.20,124.74 L668.47,124.43 L668.74,124.13 L669.02,123.82 L669.29,123.52 L669.56,123.22 L669.83,122.91 L670.10,122.60 L670.37,122.30 L670.64,121.99 L670.90,121.68" fill="none" stroke="#37AD6B" stroke-width="2.20" stroke-linejoin="round" stroke-linecap="butt" clip-path="url(#cb)"/><line x1="577.60" y1="19.90" x2="608.40" y2="19.90" stroke="#515151" stroke-width="2.00"/><text x="610.60" y="24.10" font-size="12.50" text-anchor="start" font-weight="bold">Vacuum</text><line x1="577.60" y1="35.90" x2="608.40" y2="35.90" stroke="#F14040" stroke-width="2.00"/><text x="610.60" y="40.10" font-size="12.50" text-anchor="start" font-weight="bold">10 mTorr</text><line x1="577.60" y1="51.90" x2="608.40" y2="51.90" stroke="#1A6FDF" stroke-width="2.00"/><text x="610.60" y="56.10" font-size="12.50" text-anchor="start" font-weight="bold">35 mTorr</text><line x1="577.60" y1="67.90" x2="608.40" y2="67.90" stroke="#37AD6B" stroke-width="2.00"/><text x="610.60" y="72.10" font-size="12.50" text-anchor="start" font-weight="bold">50 mTorr</text><rect x="391.00" y="4.70" width="280.10" height="226.50" fill="none" stroke="#000" stroke-width="2"/><line x1="386.50" y1="231.20" x2="391.00" y2="231.20" stroke="#000" stroke-width="1.50"/><text x="383.20" y="234.60" font-size="10.20" text-anchor="end" font-weight="bold">0.0</text><line x1="388.50" y1="215.02" x2="391.00" y2="215.02" stroke="#000" stroke-width="1.50"/><line x1="386.50" y1="198.84" x2="391.00" y2="198.84" stroke="#000" stroke-width="1.50"/><text x="383.20" y="202.24" font-size="10.20" text-anchor="end" font-weight="bold">0.1</text><line x1="388.50" y1="182.66" x2="391.00" y2="182.66" stroke="#000" stroke-width="1.50"/><line x1="386.50" y1="166.49" x2="391.00" y2="166.49" stroke="#000" stroke-width="1.50"/><text x="383.20" y="169.89" font-size="10.20" text-anchor="end" font-weight="bold">0.2</text><line x1="388.50" y1="150.31" x2="391.00" y2="150.31" stroke="#000" stroke-width="1.50"/><line x1="386.50" y1="134.13" x2="391.00" y2="134.13" stroke="#000" stroke-width="1.50"/><text x="383.20" y="137.53" font-size="10.20" text-anchor="end" font-weight="bold">0.3</text><line x1="388.50" y1="117.95" x2="391.00" y2="117.95" stroke="#000" stroke-width="1.50"/><line x1="386.50" y1="101.77" x2="391.00" y2="101.77" stroke="#000" stroke-width="1.50"/><text x="383.20" y="105.17" font-size="10.20" text-anchor="end" font-weight="bold">0.4</text><line x1="388.50" y1="85.59" x2="391.00" y2="85.59" stroke="#000" stroke-width="1.50"/><line x1="386.50" y1="69.41" x2="391.00" y2="69.41" stroke="#000" stroke-width="1.50"/><text x="383.20" y="72.81" font-size="10.20" text-anchor="end" font-weight="bold">0.5</text><line x1="388.50" y1="53.24" x2="391.00" y2="53.24" stroke="#000" stroke-width="1.50"/><line x1="386.50" y1="37.06" x2="391.00" y2="37.06" stroke="#000" stroke-width="1.50"/><text x="383.20" y="40.46" font-size="10.20" text-anchor="end" font-weight="bold">0.6</text><line x1="388.50" y1="20.88" x2="391.00" y2="20.88" stroke="#000" stroke-width="1.50"/><line x1="386.50" y1="4.70" x2="391.00" y2="4.70" stroke="#000" stroke-width="1.50"/><text x="383.20" y="8.10" font-size="10.20" text-anchor="end" font-weight="bold">0.7</text><line x1="391.00" y1="231.20" x2="391.00" y2="235.70" stroke="#000" stroke-width="1.50"/><text x="391.00" y="246.60" font-size="10.20" text-anchor="middle" font-weight="bold">0</text><line x1="419.01" y1="231.20" x2="419.01" y2="233.70" stroke="#000" stroke-width="1.50"/><line x1="447.02" y1="231.20" x2="447.02" y2="235.70" stroke="#000" stroke-width="1.50"/><text x="447.02" y="246.60" font-size="10.20" text-anchor="middle" font-weight="bold">10000</text><line x1="475.03" y1="231.20" x2="475.03" y2="233.70" stroke="#000" stroke-width="1.50"/><line x1="503.04" y1="231.20" x2="503.04" y2="235.70" stroke="#000" stroke-width="1.50"/><text x="503.04" y="246.60" font-size="10.20" text-anchor="middle" font-weight="bold">20000</text><line x1="531.05" y1="231.20" x2="531.05" y2="233.70" stroke="#000" stroke-width="1.50"/><line x1="559.06" y1="231.20" x2="559.06" y2="235.70" stroke="#000" stroke-width="1.50"/><text x="559.06" y="246.60" font-size="10.20" text-anchor="middle" font-weight="bold">30000</text><line x1="587.07" y1="231.20" x2="587.07" y2="233.70" stroke="#000" stroke-width="1.50"/><line x1="615.08" y1="231.20" x2="615.08" y2="235.70" stroke="#000" stroke-width="1.50"/><text x="615.08" y="246.60" font-size="10.20" text-anchor="middle" font-weight="bold">40000</text><line x1="643.09" y1="231.20" x2="643.09" y2="233.70" stroke="#000" stroke-width="1.50"/><line x1="671.10" y1="231.20" x2="671.10" y2="235.70" stroke="#000" stroke-width="1.50"/><text x="671.10" y="246.60" font-size="10.20" text-anchor="middle" font-weight="bold">50000</text><text x="399.00" y="26.60" font-size="15.50" text-anchor="start" font-weight="bold">(b)</text><text x="485.0" y="268.0" font-size="12.8" font-weight="bold">Frequency (cm<tspan dy="-4.6" font-size="7.6">-1</tspan><tspan dy="4.6">)</tspan></text><g transform="translate(357.3,124) rotate(-90)"><text x="0" y="0" font-size="12.8" font-weight="bold">Loss</text></g></svg></body></html>
